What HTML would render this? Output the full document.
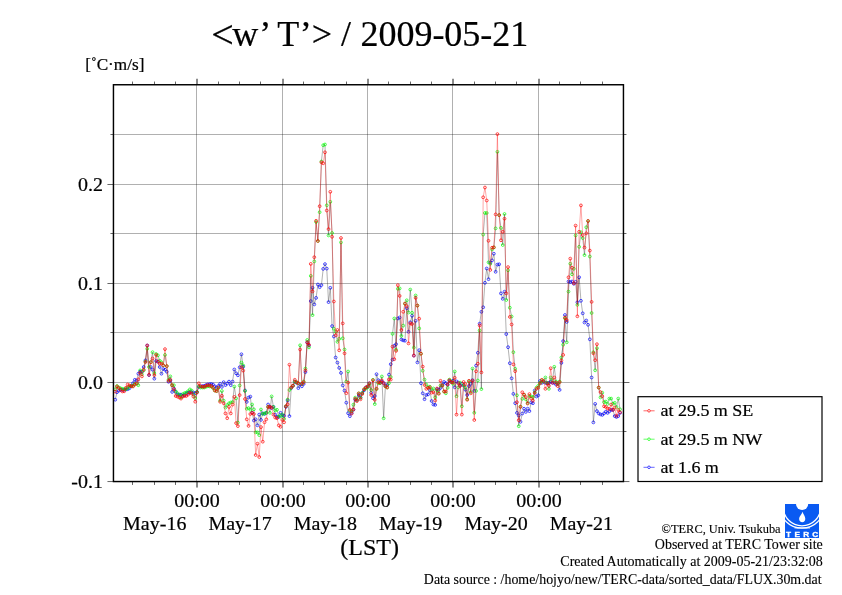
<!DOCTYPE html>
<html lang="en"><head><meta charset="utf-8"><title>&lt;w' T'&gt; / 2009-05-21</title>
<style>html,body{margin:0;padding:0;background:#fff}body{width:842px;height:595px;overflow:hidden}svg{display:block}text{font-family:"Liberation Serif",serif;fill:#000;stroke:#000;stroke-width:0.22px}</style>
</head><body>
<svg width="842" height="595" viewBox="0 0 842 595">
<rect width="842" height="595" fill="#fff"/>
<g style="will-change:opacity">
<g stroke="#000" stroke-width="1" stroke-opacity="0.31" fill="none" shape-rendering="crispEdges">
<line x1="196.5" y1="84.75" x2="196.5" y2="481.55"/>
<line x1="282.5" y1="84.75" x2="282.5" y2="481.55"/>
<line x1="367.5" y1="84.75" x2="367.5" y2="481.55"/>
<line x1="452.5" y1="84.75" x2="452.5" y2="481.55"/>
<line x1="538.5" y1="84.75" x2="538.5" y2="481.55"/>
<line x1="113.45" y1="134.5" x2="623.45" y2="134.5"/>
<line x1="113.45" y1="184.5" x2="623.45" y2="184.5"/>
<line x1="113.45" y1="233.5" x2="623.45" y2="233.5"/>
<line x1="113.45" y1="283.5" x2="623.45" y2="283.5"/>
<line x1="113.45" y1="332.5" x2="623.45" y2="332.5"/>
<line x1="113.45" y1="382.5" x2="623.45" y2="382.5"/>
<line x1="113.45" y1="431.5" x2="623.45" y2="431.5"/>
</g>
<g stroke="#000" stroke-width="1" stroke-opacity="0.6" fill="none">
<line x1="197" y1="481.55" x2="197" y2="487.55" stroke-opacity="0.9"/>
<line x1="197" y1="84.75" x2="197" y2="78.75" stroke-opacity="0.9"/>
<line x1="283" y1="481.55" x2="283" y2="487.55" stroke-opacity="0.9"/>
<line x1="283" y1="84.75" x2="283" y2="78.75" stroke-opacity="0.9"/>
<line x1="368" y1="481.55" x2="368" y2="487.55" stroke-opacity="0.9"/>
<line x1="368" y1="84.75" x2="368" y2="78.75" stroke-opacity="0.9"/>
<line x1="453" y1="481.55" x2="453" y2="487.55" stroke-opacity="0.9"/>
<line x1="453" y1="84.75" x2="453" y2="78.75" stroke-opacity="0.9"/>
<line x1="539" y1="481.55" x2="539" y2="487.55" stroke-opacity="0.9"/>
<line x1="539" y1="84.75" x2="539" y2="78.75" stroke-opacity="0.9"/>
<line x1="132.5" y1="481.55" x2="132.5" y2="484.95"/>
<line x1="132.5" y1="84.75" x2="132.5" y2="81.55"/>
<line x1="154.5" y1="481.55" x2="154.5" y2="484.95"/>
<line x1="154.5" y1="84.75" x2="154.5" y2="81.55"/>
<line x1="175.5" y1="481.55" x2="175.5" y2="484.95"/>
<line x1="175.5" y1="84.75" x2="175.5" y2="81.55"/>
<line x1="218.5" y1="481.55" x2="218.5" y2="484.95"/>
<line x1="218.5" y1="84.75" x2="218.5" y2="81.55"/>
<line x1="239.5" y1="481.55" x2="239.5" y2="484.95"/>
<line x1="239.5" y1="84.75" x2="239.5" y2="81.55"/>
<line x1="260.5" y1="481.55" x2="260.5" y2="484.95"/>
<line x1="260.5" y1="84.75" x2="260.5" y2="81.55"/>
<line x1="303.5" y1="481.55" x2="303.5" y2="484.95"/>
<line x1="303.5" y1="84.75" x2="303.5" y2="81.55"/>
<line x1="324.5" y1="481.55" x2="324.5" y2="484.95"/>
<line x1="324.5" y1="84.75" x2="324.5" y2="81.55"/>
<line x1="346.5" y1="481.55" x2="346.5" y2="484.95"/>
<line x1="346.5" y1="84.75" x2="346.5" y2="81.55"/>
<line x1="388.5" y1="481.55" x2="388.5" y2="484.95"/>
<line x1="388.5" y1="84.75" x2="388.5" y2="81.55"/>
<line x1="410.5" y1="481.55" x2="410.5" y2="484.95"/>
<line x1="410.5" y1="84.75" x2="410.5" y2="81.55"/>
<line x1="431.5" y1="481.55" x2="431.5" y2="484.95"/>
<line x1="431.5" y1="84.75" x2="431.5" y2="81.55"/>
<line x1="474.5" y1="481.55" x2="474.5" y2="484.95"/>
<line x1="474.5" y1="84.75" x2="474.5" y2="81.55"/>
<line x1="495.5" y1="481.55" x2="495.5" y2="484.95"/>
<line x1="495.5" y1="84.75" x2="495.5" y2="81.55"/>
<line x1="516.5" y1="481.55" x2="516.5" y2="484.95"/>
<line x1="516.5" y1="84.75" x2="516.5" y2="81.55"/>
<line x1="559.5" y1="481.55" x2="559.5" y2="484.95"/>
<line x1="559.5" y1="84.75" x2="559.5" y2="81.55"/>
<line x1="580.5" y1="481.55" x2="580.5" y2="484.95"/>
<line x1="580.5" y1="84.75" x2="580.5" y2="81.55"/>
<line x1="602.5" y1="481.55" x2="602.5" y2="484.95"/>
<line x1="602.5" y1="84.75" x2="602.5" y2="81.55"/>
<line x1="110.45" y1="134.5" x2="113.45" y2="134.5"/>
<line x1="623.45" y1="134.5" x2="626.45" y2="134.5"/>
<line x1="107.45" y1="184.5" x2="113.45" y2="184.5"/>
<line x1="623.45" y1="184.5" x2="629.45" y2="184.5"/>
<line x1="110.45" y1="233.5" x2="113.45" y2="233.5"/>
<line x1="623.45" y1="233.5" x2="626.45" y2="233.5"/>
<line x1="107.45" y1="283.5" x2="113.45" y2="283.5"/>
<line x1="623.45" y1="283.5" x2="629.45" y2="283.5"/>
<line x1="110.45" y1="332.5" x2="113.45" y2="332.5"/>
<line x1="623.45" y1="332.5" x2="626.45" y2="332.5"/>
<line x1="107.45" y1="382.5" x2="113.45" y2="382.5"/>
<line x1="623.45" y1="382.5" x2="629.45" y2="382.5"/>
<line x1="110.45" y1="431.5" x2="113.45" y2="431.5"/>
<line x1="623.45" y1="431.5" x2="626.45" y2="431.5"/>
<line x1="107.45" y1="481.55" x2="113.45" y2="481.55"/>
<line x1="623.45" y1="481.55" x2="629.45" y2="481.55"/>
</g>
<g>
<polyline points="115.24,399.7 117.01,392.2 118.79,390.67 120.57,389.97 122.35,389.93 124.12,389.79 125.9,389.48 127.68,389.2 129.46,388.26 131.23,386.1 133.01,383.2 134.79,379.8 136.56,380.5 138.34,373.7 140.12,371.7 141.9,371.7 143.68,367 145.45,360.3 147.23,345.5 149.01,375.1 150.79,367 152.56,369.7 154.34,378.7 156.12,361 157.9,361.6 159.67,367 161.45,373.7 163.23,369 165,369.7 166.78,371.7 168.56,381.8 170.34,380.5 172.12,391.9 173.89,388.5 175.67,391.9 177.45,394.6 179.23,394.6 181,394.6 182.78,395.68 184.56,395.05 186.34,393.3 188.11,392.85 189.89,392.29 191.67,392.2 193.44,392.6 195.22,393.2 197,391.9 198.78,386.9 200.56,386.3 202.33,386.13 204.11,386 205.89,385.17 207.67,384.5 209.44,384.22 211.22,384 213,384.5 214.78,386.3 216.55,387.5 218.33,386 220.11,383.9 221.88,386.9 223.66,382.2 225.44,385.1 227.22,383.5 229,381.6 230.77,385.1 232.55,381.6 234.33,369.5 236.11,373.3 237.88,375.3 239.66,367.3 241.44,354.3 243.22,366.7 244.99,390.5 246.77,401.9 248.55,397.6 250.32,396.6 252.1,412.8 253.88,420.5 255.66,419.3 257.44,425.3 259.21,414.6 260.99,419.9 262.77,413.4 264.54,414 266.32,412.8 268.1,404.5 269.88,406.9 271.65,408.1 273.43,406.9 275.21,414.6 276.99,417 278.76,417 280.54,412.8 282.32,415.2 284.1,415.8 285.88,406.9 287.65,400.4 289.43,416.1 291.21,388.1 292.99,385.7 294.76,381.6 296.54,382.8 298.32,388.1 300.1,384.5 301.87,386.3 303.65,384 305.43,372.1 307.2,342.4 308.98,345.5 310.76,301.1 312.54,287.8 314.31,304.4 316.09,297.9 317.87,284.5 319.65,287.2 321.42,285.1 323.2,268.9 324.98,264.1 326.76,268.6 328.53,302.1 330.31,287.8 332.09,326.1 333.87,336.5 335.64,357.5 337.42,362.6 339.2,367.9 340.98,372.9 342.75,385.4 344.53,390.6 346.31,402.7 348.09,413.2 349.87,416.2 351.64,413 353.42,409.7 355.2,399.6 356.98,400 358.75,395 360.53,397.5 362.31,393 364.08,390.3 365.86,387.5 367.64,386.8 369.42,383.3 371.19,392.7 372.97,398.2 374.75,396 376.53,374.2 378.3,380.2 380.08,382.7 381.86,381.5 383.64,383 385.41,385.6 387.19,385 388.97,374.6 390.75,364.2 392.52,359.7 394.3,345.8 396.08,344.2 397.86,318.5 399.63,317.5 401.41,339.5 403.19,340.4 404.97,340.7 406.75,308.2 408.52,331.8 410.3,322.3 412.08,315.7 413.86,355.6 415.63,320.8 417.41,362.4 419.19,350.2 420.97,383.2 422.74,393.3 424.52,399.2 426.3,395 428.07,394.4 429.85,390.3 431.63,401 433.41,404.5 435.18,404.9 436.96,389.1 438.74,389.7 440.52,387.9 442.29,384.9 444.07,382 445.85,383.2 447.63,384.9 449.4,380.8 451.18,382 452.96,380.8 454.74,387.3 456.51,381.4 458.29,382.6 460.07,385.5 461.85,383.8 463.62,385.5 465.4,389.7 467.18,395 468.96,386.1 470.74,383.8 472.51,380.2 474.29,390.9 476.07,365.6 477.85,352.8 479.62,323.7 481.4,311.8 483.18,307.3 484.95,282.8 486.73,268.5 488.51,279.2 490.29,262.6 492.06,260.4 493.84,253.7 495.62,271.8 497.4,264.6 499.17,264.3 500.95,293.4 502.73,298.8 504.51,291.7 506.28,334.1 508.06,347.2 509.84,363.2 511.62,378.3 513.39,393.9 515.17,403.2 516.95,412.9 518.73,415.5 520.5,421.8 522.28,413.5 524.06,408.7 525.84,411.9 527.62,408.7 529.39,411.1 531.17,402.4 532.95,403.2 534.73,390.5 536.5,396.5 538.28,395.3 540.06,381 541.83,382.8 543.61,381.6 545.39,382.8 547.17,383.4 548.94,382.8 550.72,381.6 552.5,382.8 554.28,382.8 556.05,384.6 557.83,383.4 559.61,389.9 561.39,362.9 563.16,341.1 564.94,315 566.72,321.9 568.5,281.5 570.27,282.1 572.05,281.5 573.83,283.8 575.61,281.8 577.38,302.3 579.16,277.3 580.94,300.8 582.72,313.3 584.5,322.5 586.27,320.5 588.05,324.8 589.83,339.3 591.61,377.5 593.38,422.4 595.16,403.9 596.94,411.1 598.71,413.4 600.49,414.4 602.27,414.9 604.05,413.4 605.82,411.7 607.6,412.9 609.38,411.3 611.16,409.9 612.93,409.9 614.71,416.1 616.49,417 618.27,416.1 620.04,412.9" fill="none" stroke="#1a1a1a" stroke-width="0.34" stroke-linejoin="round"/>
<path d="M113.84 399.7a1.4 1.4 0 1 0 2.8 0a1.4 1.4 0 1 0 -2.8 0M115.61 392.2a1.4 1.4 0 1 0 2.8 0a1.4 1.4 0 1 0 -2.8 0M117.39 390.67a1.4 1.4 0 1 0 2.8 0a1.4 1.4 0 1 0 -2.8 0M119.17 389.97a1.4 1.4 0 1 0 2.8 0a1.4 1.4 0 1 0 -2.8 0M120.95 389.93a1.4 1.4 0 1 0 2.8 0a1.4 1.4 0 1 0 -2.8 0M122.72 389.79a1.4 1.4 0 1 0 2.8 0a1.4 1.4 0 1 0 -2.8 0M124.5 389.48a1.4 1.4 0 1 0 2.8 0a1.4 1.4 0 1 0 -2.8 0M126.28 389.2a1.4 1.4 0 1 0 2.8 0a1.4 1.4 0 1 0 -2.8 0M128.06 388.26a1.4 1.4 0 1 0 2.8 0a1.4 1.4 0 1 0 -2.8 0M129.83 386.1a1.4 1.4 0 1 0 2.8 0a1.4 1.4 0 1 0 -2.8 0M131.61 383.2a1.4 1.4 0 1 0 2.8 0a1.4 1.4 0 1 0 -2.8 0M133.39 379.8a1.4 1.4 0 1 0 2.8 0a1.4 1.4 0 1 0 -2.8 0M135.16 380.5a1.4 1.4 0 1 0 2.8 0a1.4 1.4 0 1 0 -2.8 0M136.94 373.7a1.4 1.4 0 1 0 2.8 0a1.4 1.4 0 1 0 -2.8 0M138.72 371.7a1.4 1.4 0 1 0 2.8 0a1.4 1.4 0 1 0 -2.8 0M140.5 371.7a1.4 1.4 0 1 0 2.8 0a1.4 1.4 0 1 0 -2.8 0M142.28 367a1.4 1.4 0 1 0 2.8 0a1.4 1.4 0 1 0 -2.8 0M144.05 360.3a1.4 1.4 0 1 0 2.8 0a1.4 1.4 0 1 0 -2.8 0M145.83 345.5a1.4 1.4 0 1 0 2.8 0a1.4 1.4 0 1 0 -2.8 0M147.61 375.1a1.4 1.4 0 1 0 2.8 0a1.4 1.4 0 1 0 -2.8 0M149.39 367a1.4 1.4 0 1 0 2.8 0a1.4 1.4 0 1 0 -2.8 0M151.16 369.7a1.4 1.4 0 1 0 2.8 0a1.4 1.4 0 1 0 -2.8 0M152.94 378.7a1.4 1.4 0 1 0 2.8 0a1.4 1.4 0 1 0 -2.8 0M154.72 361a1.4 1.4 0 1 0 2.8 0a1.4 1.4 0 1 0 -2.8 0M156.5 361.6a1.4 1.4 0 1 0 2.8 0a1.4 1.4 0 1 0 -2.8 0M158.27 367a1.4 1.4 0 1 0 2.8 0a1.4 1.4 0 1 0 -2.8 0M160.05 373.7a1.4 1.4 0 1 0 2.8 0a1.4 1.4 0 1 0 -2.8 0M161.83 369a1.4 1.4 0 1 0 2.8 0a1.4 1.4 0 1 0 -2.8 0M163.6 369.7a1.4 1.4 0 1 0 2.8 0a1.4 1.4 0 1 0 -2.8 0M165.38 371.7a1.4 1.4 0 1 0 2.8 0a1.4 1.4 0 1 0 -2.8 0M167.16 381.8a1.4 1.4 0 1 0 2.8 0a1.4 1.4 0 1 0 -2.8 0M168.94 380.5a1.4 1.4 0 1 0 2.8 0a1.4 1.4 0 1 0 -2.8 0M170.72 391.9a1.4 1.4 0 1 0 2.8 0a1.4 1.4 0 1 0 -2.8 0M172.49 388.5a1.4 1.4 0 1 0 2.8 0a1.4 1.4 0 1 0 -2.8 0M174.27 391.9a1.4 1.4 0 1 0 2.8 0a1.4 1.4 0 1 0 -2.8 0M176.05 394.6a1.4 1.4 0 1 0 2.8 0a1.4 1.4 0 1 0 -2.8 0M177.83 394.6a1.4 1.4 0 1 0 2.8 0a1.4 1.4 0 1 0 -2.8 0M179.6 394.6a1.4 1.4 0 1 0 2.8 0a1.4 1.4 0 1 0 -2.8 0M181.38 395.68a1.4 1.4 0 1 0 2.8 0a1.4 1.4 0 1 0 -2.8 0M183.16 395.05a1.4 1.4 0 1 0 2.8 0a1.4 1.4 0 1 0 -2.8 0M184.94 393.3a1.4 1.4 0 1 0 2.8 0a1.4 1.4 0 1 0 -2.8 0M186.71 392.85a1.4 1.4 0 1 0 2.8 0a1.4 1.4 0 1 0 -2.8 0M188.49 392.29a1.4 1.4 0 1 0 2.8 0a1.4 1.4 0 1 0 -2.8 0M190.27 392.2a1.4 1.4 0 1 0 2.8 0a1.4 1.4 0 1 0 -2.8 0M192.04 392.6a1.4 1.4 0 1 0 2.8 0a1.4 1.4 0 1 0 -2.8 0M193.82 393.2a1.4 1.4 0 1 0 2.8 0a1.4 1.4 0 1 0 -2.8 0M195.6 391.9a1.4 1.4 0 1 0 2.8 0a1.4 1.4 0 1 0 -2.8 0M197.38 386.9a1.4 1.4 0 1 0 2.8 0a1.4 1.4 0 1 0 -2.8 0M199.16 386.3a1.4 1.4 0 1 0 2.8 0a1.4 1.4 0 1 0 -2.8 0M200.93 386.13a1.4 1.4 0 1 0 2.8 0a1.4 1.4 0 1 0 -2.8 0M202.71 386a1.4 1.4 0 1 0 2.8 0a1.4 1.4 0 1 0 -2.8 0M204.49 385.17a1.4 1.4 0 1 0 2.8 0a1.4 1.4 0 1 0 -2.8 0M206.27 384.5a1.4 1.4 0 1 0 2.8 0a1.4 1.4 0 1 0 -2.8 0M208.04 384.22a1.4 1.4 0 1 0 2.8 0a1.4 1.4 0 1 0 -2.8 0M209.82 384a1.4 1.4 0 1 0 2.8 0a1.4 1.4 0 1 0 -2.8 0M211.6 384.5a1.4 1.4 0 1 0 2.8 0a1.4 1.4 0 1 0 -2.8 0M213.38 386.3a1.4 1.4 0 1 0 2.8 0a1.4 1.4 0 1 0 -2.8 0M215.15 387.5a1.4 1.4 0 1 0 2.8 0a1.4 1.4 0 1 0 -2.8 0M216.93 386a1.4 1.4 0 1 0 2.8 0a1.4 1.4 0 1 0 -2.8 0M218.71 383.9a1.4 1.4 0 1 0 2.8 0a1.4 1.4 0 1 0 -2.8 0M220.48 386.9a1.4 1.4 0 1 0 2.8 0a1.4 1.4 0 1 0 -2.8 0M222.26 382.2a1.4 1.4 0 1 0 2.8 0a1.4 1.4 0 1 0 -2.8 0M224.04 385.1a1.4 1.4 0 1 0 2.8 0a1.4 1.4 0 1 0 -2.8 0M225.82 383.5a1.4 1.4 0 1 0 2.8 0a1.4 1.4 0 1 0 -2.8 0M227.6 381.6a1.4 1.4 0 1 0 2.8 0a1.4 1.4 0 1 0 -2.8 0M229.37 385.1a1.4 1.4 0 1 0 2.8 0a1.4 1.4 0 1 0 -2.8 0M231.15 381.6a1.4 1.4 0 1 0 2.8 0a1.4 1.4 0 1 0 -2.8 0M232.93 369.5a1.4 1.4 0 1 0 2.8 0a1.4 1.4 0 1 0 -2.8 0M234.71 373.3a1.4 1.4 0 1 0 2.8 0a1.4 1.4 0 1 0 -2.8 0M236.48 375.3a1.4 1.4 0 1 0 2.8 0a1.4 1.4 0 1 0 -2.8 0M238.26 367.3a1.4 1.4 0 1 0 2.8 0a1.4 1.4 0 1 0 -2.8 0M240.04 354.3a1.4 1.4 0 1 0 2.8 0a1.4 1.4 0 1 0 -2.8 0M241.82 366.7a1.4 1.4 0 1 0 2.8 0a1.4 1.4 0 1 0 -2.8 0M243.59 390.5a1.4 1.4 0 1 0 2.8 0a1.4 1.4 0 1 0 -2.8 0M245.37 401.9a1.4 1.4 0 1 0 2.8 0a1.4 1.4 0 1 0 -2.8 0M247.15 397.6a1.4 1.4 0 1 0 2.8 0a1.4 1.4 0 1 0 -2.8 0M248.92 396.6a1.4 1.4 0 1 0 2.8 0a1.4 1.4 0 1 0 -2.8 0M250.7 412.8a1.4 1.4 0 1 0 2.8 0a1.4 1.4 0 1 0 -2.8 0M252.48 420.5a1.4 1.4 0 1 0 2.8 0a1.4 1.4 0 1 0 -2.8 0M254.26 419.3a1.4 1.4 0 1 0 2.8 0a1.4 1.4 0 1 0 -2.8 0M256.04 425.3a1.4 1.4 0 1 0 2.8 0a1.4 1.4 0 1 0 -2.8 0M257.81 414.6a1.4 1.4 0 1 0 2.8 0a1.4 1.4 0 1 0 -2.8 0M259.59 419.9a1.4 1.4 0 1 0 2.8 0a1.4 1.4 0 1 0 -2.8 0M261.37 413.4a1.4 1.4 0 1 0 2.8 0a1.4 1.4 0 1 0 -2.8 0M263.14 414a1.4 1.4 0 1 0 2.8 0a1.4 1.4 0 1 0 -2.8 0M264.92 412.8a1.4 1.4 0 1 0 2.8 0a1.4 1.4 0 1 0 -2.8 0M266.7 404.5a1.4 1.4 0 1 0 2.8 0a1.4 1.4 0 1 0 -2.8 0M268.48 406.9a1.4 1.4 0 1 0 2.8 0a1.4 1.4 0 1 0 -2.8 0M270.25 408.1a1.4 1.4 0 1 0 2.8 0a1.4 1.4 0 1 0 -2.8 0M272.03 406.9a1.4 1.4 0 1 0 2.8 0a1.4 1.4 0 1 0 -2.8 0M273.81 414.6a1.4 1.4 0 1 0 2.8 0a1.4 1.4 0 1 0 -2.8 0M275.59 417a1.4 1.4 0 1 0 2.8 0a1.4 1.4 0 1 0 -2.8 0M277.36 417a1.4 1.4 0 1 0 2.8 0a1.4 1.4 0 1 0 -2.8 0M279.14 412.8a1.4 1.4 0 1 0 2.8 0a1.4 1.4 0 1 0 -2.8 0M280.92 415.2a1.4 1.4 0 1 0 2.8 0a1.4 1.4 0 1 0 -2.8 0M282.7 415.8a1.4 1.4 0 1 0 2.8 0a1.4 1.4 0 1 0 -2.8 0M284.48 406.9a1.4 1.4 0 1 0 2.8 0a1.4 1.4 0 1 0 -2.8 0M286.25 400.4a1.4 1.4 0 1 0 2.8 0a1.4 1.4 0 1 0 -2.8 0M288.03 416.1a1.4 1.4 0 1 0 2.8 0a1.4 1.4 0 1 0 -2.8 0M289.81 388.1a1.4 1.4 0 1 0 2.8 0a1.4 1.4 0 1 0 -2.8 0M291.59 385.7a1.4 1.4 0 1 0 2.8 0a1.4 1.4 0 1 0 -2.8 0M293.36 381.6a1.4 1.4 0 1 0 2.8 0a1.4 1.4 0 1 0 -2.8 0M295.14 382.8a1.4 1.4 0 1 0 2.8 0a1.4 1.4 0 1 0 -2.8 0M296.92 388.1a1.4 1.4 0 1 0 2.8 0a1.4 1.4 0 1 0 -2.8 0M298.7 384.5a1.4 1.4 0 1 0 2.8 0a1.4 1.4 0 1 0 -2.8 0M300.47 386.3a1.4 1.4 0 1 0 2.8 0a1.4 1.4 0 1 0 -2.8 0M302.25 384a1.4 1.4 0 1 0 2.8 0a1.4 1.4 0 1 0 -2.8 0M304.03 372.1a1.4 1.4 0 1 0 2.8 0a1.4 1.4 0 1 0 -2.8 0M305.8 342.4a1.4 1.4 0 1 0 2.8 0a1.4 1.4 0 1 0 -2.8 0M307.58 345.5a1.4 1.4 0 1 0 2.8 0a1.4 1.4 0 1 0 -2.8 0M309.36 301.1a1.4 1.4 0 1 0 2.8 0a1.4 1.4 0 1 0 -2.8 0M311.14 287.8a1.4 1.4 0 1 0 2.8 0a1.4 1.4 0 1 0 -2.8 0M312.91 304.4a1.4 1.4 0 1 0 2.8 0a1.4 1.4 0 1 0 -2.8 0M314.69 297.9a1.4 1.4 0 1 0 2.8 0a1.4 1.4 0 1 0 -2.8 0M316.47 284.5a1.4 1.4 0 1 0 2.8 0a1.4 1.4 0 1 0 -2.8 0M318.25 287.2a1.4 1.4 0 1 0 2.8 0a1.4 1.4 0 1 0 -2.8 0M320.02 285.1a1.4 1.4 0 1 0 2.8 0a1.4 1.4 0 1 0 -2.8 0M321.8 268.9a1.4 1.4 0 1 0 2.8 0a1.4 1.4 0 1 0 -2.8 0M323.58 264.1a1.4 1.4 0 1 0 2.8 0a1.4 1.4 0 1 0 -2.8 0M325.36 268.6a1.4 1.4 0 1 0 2.8 0a1.4 1.4 0 1 0 -2.8 0M327.13 302.1a1.4 1.4 0 1 0 2.8 0a1.4 1.4 0 1 0 -2.8 0M328.91 287.8a1.4 1.4 0 1 0 2.8 0a1.4 1.4 0 1 0 -2.8 0M330.69 326.1a1.4 1.4 0 1 0 2.8 0a1.4 1.4 0 1 0 -2.8 0M332.47 336.5a1.4 1.4 0 1 0 2.8 0a1.4 1.4 0 1 0 -2.8 0M334.24 357.5a1.4 1.4 0 1 0 2.8 0a1.4 1.4 0 1 0 -2.8 0M336.02 362.6a1.4 1.4 0 1 0 2.8 0a1.4 1.4 0 1 0 -2.8 0M337.8 367.9a1.4 1.4 0 1 0 2.8 0a1.4 1.4 0 1 0 -2.8 0M339.58 372.9a1.4 1.4 0 1 0 2.8 0a1.4 1.4 0 1 0 -2.8 0M341.35 385.4a1.4 1.4 0 1 0 2.8 0a1.4 1.4 0 1 0 -2.8 0M343.13 390.6a1.4 1.4 0 1 0 2.8 0a1.4 1.4 0 1 0 -2.8 0M344.91 402.7a1.4 1.4 0 1 0 2.8 0a1.4 1.4 0 1 0 -2.8 0M346.69 413.2a1.4 1.4 0 1 0 2.8 0a1.4 1.4 0 1 0 -2.8 0M348.47 416.2a1.4 1.4 0 1 0 2.8 0a1.4 1.4 0 1 0 -2.8 0M350.24 413a1.4 1.4 0 1 0 2.8 0a1.4 1.4 0 1 0 -2.8 0M352.02 409.7a1.4 1.4 0 1 0 2.8 0a1.4 1.4 0 1 0 -2.8 0M353.8 399.6a1.4 1.4 0 1 0 2.8 0a1.4 1.4 0 1 0 -2.8 0M355.58 400a1.4 1.4 0 1 0 2.8 0a1.4 1.4 0 1 0 -2.8 0M357.35 395a1.4 1.4 0 1 0 2.8 0a1.4 1.4 0 1 0 -2.8 0M359.13 397.5a1.4 1.4 0 1 0 2.8 0a1.4 1.4 0 1 0 -2.8 0M360.91 393a1.4 1.4 0 1 0 2.8 0a1.4 1.4 0 1 0 -2.8 0M362.68 390.3a1.4 1.4 0 1 0 2.8 0a1.4 1.4 0 1 0 -2.8 0M364.46 387.5a1.4 1.4 0 1 0 2.8 0a1.4 1.4 0 1 0 -2.8 0M366.24 386.8a1.4 1.4 0 1 0 2.8 0a1.4 1.4 0 1 0 -2.8 0M368.02 383.3a1.4 1.4 0 1 0 2.8 0a1.4 1.4 0 1 0 -2.8 0M369.79 392.7a1.4 1.4 0 1 0 2.8 0a1.4 1.4 0 1 0 -2.8 0M371.57 398.2a1.4 1.4 0 1 0 2.8 0a1.4 1.4 0 1 0 -2.8 0M373.35 396a1.4 1.4 0 1 0 2.8 0a1.4 1.4 0 1 0 -2.8 0M375.13 374.2a1.4 1.4 0 1 0 2.8 0a1.4 1.4 0 1 0 -2.8 0M376.9 380.2a1.4 1.4 0 1 0 2.8 0a1.4 1.4 0 1 0 -2.8 0M378.68 382.7a1.4 1.4 0 1 0 2.8 0a1.4 1.4 0 1 0 -2.8 0M380.46 381.5a1.4 1.4 0 1 0 2.8 0a1.4 1.4 0 1 0 -2.8 0M382.24 383a1.4 1.4 0 1 0 2.8 0a1.4 1.4 0 1 0 -2.8 0M384.01 385.6a1.4 1.4 0 1 0 2.8 0a1.4 1.4 0 1 0 -2.8 0M385.79 385a1.4 1.4 0 1 0 2.8 0a1.4 1.4 0 1 0 -2.8 0M387.57 374.6a1.4 1.4 0 1 0 2.8 0a1.4 1.4 0 1 0 -2.8 0M389.35 364.2a1.4 1.4 0 1 0 2.8 0a1.4 1.4 0 1 0 -2.8 0M391.12 359.7a1.4 1.4 0 1 0 2.8 0a1.4 1.4 0 1 0 -2.8 0M392.9 345.8a1.4 1.4 0 1 0 2.8 0a1.4 1.4 0 1 0 -2.8 0M394.68 344.2a1.4 1.4 0 1 0 2.8 0a1.4 1.4 0 1 0 -2.8 0M396.46 318.5a1.4 1.4 0 1 0 2.8 0a1.4 1.4 0 1 0 -2.8 0M398.23 317.5a1.4 1.4 0 1 0 2.8 0a1.4 1.4 0 1 0 -2.8 0M400.01 339.5a1.4 1.4 0 1 0 2.8 0a1.4 1.4 0 1 0 -2.8 0M401.79 340.4a1.4 1.4 0 1 0 2.8 0a1.4 1.4 0 1 0 -2.8 0M403.57 340.7a1.4 1.4 0 1 0 2.8 0a1.4 1.4 0 1 0 -2.8 0M405.35 308.2a1.4 1.4 0 1 0 2.8 0a1.4 1.4 0 1 0 -2.8 0M407.12 331.8a1.4 1.4 0 1 0 2.8 0a1.4 1.4 0 1 0 -2.8 0M408.9 322.3a1.4 1.4 0 1 0 2.8 0a1.4 1.4 0 1 0 -2.8 0M410.68 315.7a1.4 1.4 0 1 0 2.8 0a1.4 1.4 0 1 0 -2.8 0M412.46 355.6a1.4 1.4 0 1 0 2.8 0a1.4 1.4 0 1 0 -2.8 0M414.23 320.8a1.4 1.4 0 1 0 2.8 0a1.4 1.4 0 1 0 -2.8 0M416.01 362.4a1.4 1.4 0 1 0 2.8 0a1.4 1.4 0 1 0 -2.8 0M417.79 350.2a1.4 1.4 0 1 0 2.8 0a1.4 1.4 0 1 0 -2.8 0M419.57 383.2a1.4 1.4 0 1 0 2.8 0a1.4 1.4 0 1 0 -2.8 0M421.34 393.3a1.4 1.4 0 1 0 2.8 0a1.4 1.4 0 1 0 -2.8 0M423.12 399.2a1.4 1.4 0 1 0 2.8 0a1.4 1.4 0 1 0 -2.8 0M424.9 395a1.4 1.4 0 1 0 2.8 0a1.4 1.4 0 1 0 -2.8 0M426.67 394.4a1.4 1.4 0 1 0 2.8 0a1.4 1.4 0 1 0 -2.8 0M428.45 390.3a1.4 1.4 0 1 0 2.8 0a1.4 1.4 0 1 0 -2.8 0M430.23 401a1.4 1.4 0 1 0 2.8 0a1.4 1.4 0 1 0 -2.8 0M432.01 404.5a1.4 1.4 0 1 0 2.8 0a1.4 1.4 0 1 0 -2.8 0M433.78 404.9a1.4 1.4 0 1 0 2.8 0a1.4 1.4 0 1 0 -2.8 0M435.56 389.1a1.4 1.4 0 1 0 2.8 0a1.4 1.4 0 1 0 -2.8 0M437.34 389.7a1.4 1.4 0 1 0 2.8 0a1.4 1.4 0 1 0 -2.8 0M439.12 387.9a1.4 1.4 0 1 0 2.8 0a1.4 1.4 0 1 0 -2.8 0M440.89 384.9a1.4 1.4 0 1 0 2.8 0a1.4 1.4 0 1 0 -2.8 0M442.67 382a1.4 1.4 0 1 0 2.8 0a1.4 1.4 0 1 0 -2.8 0M444.45 383.2a1.4 1.4 0 1 0 2.8 0a1.4 1.4 0 1 0 -2.8 0M446.23 384.9a1.4 1.4 0 1 0 2.8 0a1.4 1.4 0 1 0 -2.8 0M448 380.8a1.4 1.4 0 1 0 2.8 0a1.4 1.4 0 1 0 -2.8 0M449.78 382a1.4 1.4 0 1 0 2.8 0a1.4 1.4 0 1 0 -2.8 0M451.56 380.8a1.4 1.4 0 1 0 2.8 0a1.4 1.4 0 1 0 -2.8 0M453.34 387.3a1.4 1.4 0 1 0 2.8 0a1.4 1.4 0 1 0 -2.8 0M455.11 381.4a1.4 1.4 0 1 0 2.8 0a1.4 1.4 0 1 0 -2.8 0M456.89 382.6a1.4 1.4 0 1 0 2.8 0a1.4 1.4 0 1 0 -2.8 0M458.67 385.5a1.4 1.4 0 1 0 2.8 0a1.4 1.4 0 1 0 -2.8 0M460.45 383.8a1.4 1.4 0 1 0 2.8 0a1.4 1.4 0 1 0 -2.8 0M462.22 385.5a1.4 1.4 0 1 0 2.8 0a1.4 1.4 0 1 0 -2.8 0M464 389.7a1.4 1.4 0 1 0 2.8 0a1.4 1.4 0 1 0 -2.8 0M465.78 395a1.4 1.4 0 1 0 2.8 0a1.4 1.4 0 1 0 -2.8 0M467.56 386.1a1.4 1.4 0 1 0 2.8 0a1.4 1.4 0 1 0 -2.8 0M469.34 383.8a1.4 1.4 0 1 0 2.8 0a1.4 1.4 0 1 0 -2.8 0M471.11 380.2a1.4 1.4 0 1 0 2.8 0a1.4 1.4 0 1 0 -2.8 0M472.89 390.9a1.4 1.4 0 1 0 2.8 0a1.4 1.4 0 1 0 -2.8 0M474.67 365.6a1.4 1.4 0 1 0 2.8 0a1.4 1.4 0 1 0 -2.8 0M476.45 352.8a1.4 1.4 0 1 0 2.8 0a1.4 1.4 0 1 0 -2.8 0M478.22 323.7a1.4 1.4 0 1 0 2.8 0a1.4 1.4 0 1 0 -2.8 0M480 311.8a1.4 1.4 0 1 0 2.8 0a1.4 1.4 0 1 0 -2.8 0M481.78 307.3a1.4 1.4 0 1 0 2.8 0a1.4 1.4 0 1 0 -2.8 0M483.55 282.8a1.4 1.4 0 1 0 2.8 0a1.4 1.4 0 1 0 -2.8 0M485.33 268.5a1.4 1.4 0 1 0 2.8 0a1.4 1.4 0 1 0 -2.8 0M487.11 279.2a1.4 1.4 0 1 0 2.8 0a1.4 1.4 0 1 0 -2.8 0M488.89 262.6a1.4 1.4 0 1 0 2.8 0a1.4 1.4 0 1 0 -2.8 0M490.66 260.4a1.4 1.4 0 1 0 2.8 0a1.4 1.4 0 1 0 -2.8 0M492.44 253.7a1.4 1.4 0 1 0 2.8 0a1.4 1.4 0 1 0 -2.8 0M494.22 271.8a1.4 1.4 0 1 0 2.8 0a1.4 1.4 0 1 0 -2.8 0M496 264.6a1.4 1.4 0 1 0 2.8 0a1.4 1.4 0 1 0 -2.8 0M497.77 264.3a1.4 1.4 0 1 0 2.8 0a1.4 1.4 0 1 0 -2.8 0M499.55 293.4a1.4 1.4 0 1 0 2.8 0a1.4 1.4 0 1 0 -2.8 0M501.33 298.8a1.4 1.4 0 1 0 2.8 0a1.4 1.4 0 1 0 -2.8 0M503.11 291.7a1.4 1.4 0 1 0 2.8 0a1.4 1.4 0 1 0 -2.8 0M504.88 334.1a1.4 1.4 0 1 0 2.8 0a1.4 1.4 0 1 0 -2.8 0M506.66 347.2a1.4 1.4 0 1 0 2.8 0a1.4 1.4 0 1 0 -2.8 0M508.44 363.2a1.4 1.4 0 1 0 2.8 0a1.4 1.4 0 1 0 -2.8 0M510.22 378.3a1.4 1.4 0 1 0 2.8 0a1.4 1.4 0 1 0 -2.8 0M511.99 393.9a1.4 1.4 0 1 0 2.8 0a1.4 1.4 0 1 0 -2.8 0M513.77 403.2a1.4 1.4 0 1 0 2.8 0a1.4 1.4 0 1 0 -2.8 0M515.55 412.9a1.4 1.4 0 1 0 2.8 0a1.4 1.4 0 1 0 -2.8 0M517.33 415.5a1.4 1.4 0 1 0 2.8 0a1.4 1.4 0 1 0 -2.8 0M519.1 421.8a1.4 1.4 0 1 0 2.8 0a1.4 1.4 0 1 0 -2.8 0M520.88 413.5a1.4 1.4 0 1 0 2.8 0a1.4 1.4 0 1 0 -2.8 0M522.66 408.7a1.4 1.4 0 1 0 2.8 0a1.4 1.4 0 1 0 -2.8 0M524.44 411.9a1.4 1.4 0 1 0 2.8 0a1.4 1.4 0 1 0 -2.8 0M526.22 408.7a1.4 1.4 0 1 0 2.8 0a1.4 1.4 0 1 0 -2.8 0M527.99 411.1a1.4 1.4 0 1 0 2.8 0a1.4 1.4 0 1 0 -2.8 0M529.77 402.4a1.4 1.4 0 1 0 2.8 0a1.4 1.4 0 1 0 -2.8 0M531.55 403.2a1.4 1.4 0 1 0 2.8 0a1.4 1.4 0 1 0 -2.8 0M533.33 390.5a1.4 1.4 0 1 0 2.8 0a1.4 1.4 0 1 0 -2.8 0M535.1 396.5a1.4 1.4 0 1 0 2.8 0a1.4 1.4 0 1 0 -2.8 0M536.88 395.3a1.4 1.4 0 1 0 2.8 0a1.4 1.4 0 1 0 -2.8 0M538.66 381a1.4 1.4 0 1 0 2.8 0a1.4 1.4 0 1 0 -2.8 0M540.43 382.8a1.4 1.4 0 1 0 2.8 0a1.4 1.4 0 1 0 -2.8 0M542.21 381.6a1.4 1.4 0 1 0 2.8 0a1.4 1.4 0 1 0 -2.8 0M543.99 382.8a1.4 1.4 0 1 0 2.8 0a1.4 1.4 0 1 0 -2.8 0M545.77 383.4a1.4 1.4 0 1 0 2.8 0a1.4 1.4 0 1 0 -2.8 0M547.54 382.8a1.4 1.4 0 1 0 2.8 0a1.4 1.4 0 1 0 -2.8 0M549.32 381.6a1.4 1.4 0 1 0 2.8 0a1.4 1.4 0 1 0 -2.8 0M551.1 382.8a1.4 1.4 0 1 0 2.8 0a1.4 1.4 0 1 0 -2.8 0M552.88 382.8a1.4 1.4 0 1 0 2.8 0a1.4 1.4 0 1 0 -2.8 0M554.65 384.6a1.4 1.4 0 1 0 2.8 0a1.4 1.4 0 1 0 -2.8 0M556.43 383.4a1.4 1.4 0 1 0 2.8 0a1.4 1.4 0 1 0 -2.8 0M558.21 389.9a1.4 1.4 0 1 0 2.8 0a1.4 1.4 0 1 0 -2.8 0M559.99 362.9a1.4 1.4 0 1 0 2.8 0a1.4 1.4 0 1 0 -2.8 0M561.76 341.1a1.4 1.4 0 1 0 2.8 0a1.4 1.4 0 1 0 -2.8 0M563.54 315a1.4 1.4 0 1 0 2.8 0a1.4 1.4 0 1 0 -2.8 0M565.32 321.9a1.4 1.4 0 1 0 2.8 0a1.4 1.4 0 1 0 -2.8 0M567.1 281.5a1.4 1.4 0 1 0 2.8 0a1.4 1.4 0 1 0 -2.8 0M568.87 282.1a1.4 1.4 0 1 0 2.8 0a1.4 1.4 0 1 0 -2.8 0M570.65 281.5a1.4 1.4 0 1 0 2.8 0a1.4 1.4 0 1 0 -2.8 0M572.43 283.8a1.4 1.4 0 1 0 2.8 0a1.4 1.4 0 1 0 -2.8 0M574.21 281.8a1.4 1.4 0 1 0 2.8 0a1.4 1.4 0 1 0 -2.8 0M575.98 302.3a1.4 1.4 0 1 0 2.8 0a1.4 1.4 0 1 0 -2.8 0M577.76 277.3a1.4 1.4 0 1 0 2.8 0a1.4 1.4 0 1 0 -2.8 0M579.54 300.8a1.4 1.4 0 1 0 2.8 0a1.4 1.4 0 1 0 -2.8 0M581.32 313.3a1.4 1.4 0 1 0 2.8 0a1.4 1.4 0 1 0 -2.8 0M583.1 322.5a1.4 1.4 0 1 0 2.8 0a1.4 1.4 0 1 0 -2.8 0M584.87 320.5a1.4 1.4 0 1 0 2.8 0a1.4 1.4 0 1 0 -2.8 0M586.65 324.8a1.4 1.4 0 1 0 2.8 0a1.4 1.4 0 1 0 -2.8 0M588.43 339.3a1.4 1.4 0 1 0 2.8 0a1.4 1.4 0 1 0 -2.8 0M590.21 377.5a1.4 1.4 0 1 0 2.8 0a1.4 1.4 0 1 0 -2.8 0M591.98 422.4a1.4 1.4 0 1 0 2.8 0a1.4 1.4 0 1 0 -2.8 0M593.76 403.9a1.4 1.4 0 1 0 2.8 0a1.4 1.4 0 1 0 -2.8 0M595.54 411.1a1.4 1.4 0 1 0 2.8 0a1.4 1.4 0 1 0 -2.8 0M597.31 413.4a1.4 1.4 0 1 0 2.8 0a1.4 1.4 0 1 0 -2.8 0M599.09 414.4a1.4 1.4 0 1 0 2.8 0a1.4 1.4 0 1 0 -2.8 0M600.87 414.9a1.4 1.4 0 1 0 2.8 0a1.4 1.4 0 1 0 -2.8 0M602.65 413.4a1.4 1.4 0 1 0 2.8 0a1.4 1.4 0 1 0 -2.8 0M604.42 411.7a1.4 1.4 0 1 0 2.8 0a1.4 1.4 0 1 0 -2.8 0M606.2 412.9a1.4 1.4 0 1 0 2.8 0a1.4 1.4 0 1 0 -2.8 0M607.98 411.3a1.4 1.4 0 1 0 2.8 0a1.4 1.4 0 1 0 -2.8 0M609.76 409.9a1.4 1.4 0 1 0 2.8 0a1.4 1.4 0 1 0 -2.8 0M611.53 409.9a1.4 1.4 0 1 0 2.8 0a1.4 1.4 0 1 0 -2.8 0M613.31 416.1a1.4 1.4 0 1 0 2.8 0a1.4 1.4 0 1 0 -2.8 0M615.09 417a1.4 1.4 0 1 0 2.8 0a1.4 1.4 0 1 0 -2.8 0M616.87 416.1a1.4 1.4 0 1 0 2.8 0a1.4 1.4 0 1 0 -2.8 0M618.64 412.9a1.4 1.4 0 1 0 2.8 0a1.4 1.4 0 1 0 -2.8 0" fill="none" stroke="#00f" stroke-width="0.7"/>
<polyline points="115.24,389.2 117.01,386 118.79,387.47 120.57,388.27 122.35,388.83 124.12,389.2 125.9,389.2 127.68,387.98 129.46,386.51 131.23,385.9 133.01,385.9 134.79,384.01 136.56,383.91 138.34,385.2 140.12,370.4 141.9,374.4 143.68,370.4 145.45,361.6 147.23,348.8 149.01,367 150.79,362 152.56,352.2 154.34,373.1 156.12,354 157.9,355.3 159.67,360.7 161.45,362.3 163.23,365.3 165,354.9 166.78,366.1 168.56,379.8 170.34,376.4 172.12,385.2 173.89,385.2 175.67,391.2 177.45,393.3 179.23,395.11 181,397.3 182.78,394.22 184.56,393.05 186.34,392.6 188.11,391.19 189.89,389.41 191.67,390.54 193.44,394.6 195.22,398 197,392 198.78,386.3 200.56,387.5 202.33,387.5 204.11,387.5 205.89,386.84 207.67,386.3 209.44,386.41 211.22,386.5 213,388.1 214.78,390.5 216.55,391.1 218.33,388.1 220.11,400.6 221.88,391 223.66,400.6 225.44,407.6 227.22,405 229,403.3 230.77,402.5 232.55,402.1 234.33,386.6 236.11,398.4 237.88,422.6 239.66,385.5 241.44,362.6 243.22,365.5 244.99,391 246.77,408.8 248.55,408.1 250.32,409.8 252.1,404.5 253.88,409.3 255.66,432.4 257.44,432.4 259.21,435.1 260.99,409.5 262.77,414 264.54,413.4 266.32,412.8 268.1,406.9 269.88,412.8 271.65,396.4 273.43,406.9 275.21,410.4 276.99,409.8 278.76,416.4 280.54,416.4 282.32,414.6 284.1,418.8 285.88,406.3 287.65,399.6 289.43,390 291.21,387.5 292.99,385.7 294.76,381.6 296.54,382.2 298.32,383.3 300.1,345.3 301.87,383.9 303.65,381.6 305.43,368.5 307.2,340 308.98,347.4 310.76,275.9 312.54,315.1 314.31,261.4 316.09,222 317.87,241 319.65,212.2 321.42,161.5 323.2,145.2 324.98,144.5 326.76,205.3 328.53,235.4 330.31,201.8 332.09,233 333.87,328.8 335.64,331.8 337.42,341.8 339.2,338.9 340.98,242.4 342.75,338.3 344.53,349.5 346.31,381.5 348.09,371.5 349.87,410.6 351.64,411.2 353.42,404.7 355.2,397.6 356.98,399.9 358.75,393.4 360.53,397.8 362.31,393 364.08,389.3 365.86,388.5 367.64,387.3 369.42,384.3 371.19,390 372.97,379.8 374.75,404.1 376.53,389.1 378.3,383.1 380.08,383.2 381.86,376.5 383.64,418.3 385.41,386.3 387.19,387.5 388.97,383.2 390.75,377 392.52,333.9 394.3,318.5 396.08,349.7 397.86,288.8 399.63,288.4 401.41,335.9 403.19,325.6 404.97,303.8 406.75,300.3 408.52,312.5 410.3,289.6 412.08,312.8 413.86,347.6 415.63,295.5 417.41,305.6 419.19,328.4 420.97,353.7 422.74,370.7 424.52,379.6 426.3,384.6 428.07,387.3 429.85,386.7 431.63,389.7 433.41,388.5 435.18,397.4 436.96,390.3 438.74,393.3 440.52,385.5 442.29,385.5 444.07,391.5 445.85,393.3 447.63,387.9 449.4,379.6 451.18,381.4 452.96,383.8 454.74,371.5 456.51,396.2 458.29,387.3 460.07,382.6 461.85,406.3 463.62,385 465.4,387.9 467.18,399.2 468.96,381.4 470.74,392.1 472.51,368.6 474.29,412.8 476.07,390.9 477.85,380.5 479.62,330.4 481.4,389.1 483.18,234.6 484.95,213 486.73,213 488.51,262.3 490.29,263.8 492.06,249.5 493.84,247.4 495.62,228.4 497.4,151.8 499.17,215.1 500.95,227.9 502.73,245 504.51,214 506.28,300 508.06,270.3 509.84,307.7 511.62,316.5 513.39,352.2 515.17,368.8 516.95,395.3 518.73,426.2 520.5,406.6 522.28,398.8 524.06,394.7 525.84,399.4 527.62,403 529.39,395.9 531.17,396.5 532.95,397.1 534.73,392.3 536.5,387.6 538.28,385.8 540.06,382.8 541.83,380.4 543.61,381.6 545.39,377.5 547.17,382.8 548.94,388.8 550.72,377.5 552.5,380.4 554.28,366.8 556.05,381.6 557.83,384 559.61,381.6 561.39,357.5 563.16,344.7 564.94,318.3 566.72,342.3 568.5,291.6 570.27,263.7 572.05,274.3 573.83,268.8 575.61,235.4 577.38,304.9 579.16,246.8 580.94,232.2 582.72,238.1 584.5,255.1 586.27,227.2 588.05,221.2 589.83,256.5 591.61,313 593.38,352.2 595.16,370.3 596.94,348.2 598.71,387.6 600.49,397.4 602.27,392.7 604.05,402.2 605.82,401.6 607.6,403.9 609.38,398.6 611.16,398.6 612.93,403.7 614.71,402.8 616.49,406.9 618.27,398.6 620.04,409.3" fill="none" stroke="#1a1a1a" stroke-width="0.34" stroke-linejoin="round"/>
<path d="M113.84 389.2a1.4 1.4 0 1 0 2.8 0a1.4 1.4 0 1 0 -2.8 0M115.61 386a1.4 1.4 0 1 0 2.8 0a1.4 1.4 0 1 0 -2.8 0M117.39 387.47a1.4 1.4 0 1 0 2.8 0a1.4 1.4 0 1 0 -2.8 0M119.17 388.27a1.4 1.4 0 1 0 2.8 0a1.4 1.4 0 1 0 -2.8 0M120.95 388.83a1.4 1.4 0 1 0 2.8 0a1.4 1.4 0 1 0 -2.8 0M122.72 389.2a1.4 1.4 0 1 0 2.8 0a1.4 1.4 0 1 0 -2.8 0M124.5 389.2a1.4 1.4 0 1 0 2.8 0a1.4 1.4 0 1 0 -2.8 0M126.28 387.98a1.4 1.4 0 1 0 2.8 0a1.4 1.4 0 1 0 -2.8 0M128.06 386.51a1.4 1.4 0 1 0 2.8 0a1.4 1.4 0 1 0 -2.8 0M129.83 385.9a1.4 1.4 0 1 0 2.8 0a1.4 1.4 0 1 0 -2.8 0M131.61 385.9a1.4 1.4 0 1 0 2.8 0a1.4 1.4 0 1 0 -2.8 0M133.39 384.01a1.4 1.4 0 1 0 2.8 0a1.4 1.4 0 1 0 -2.8 0M135.16 383.91a1.4 1.4 0 1 0 2.8 0a1.4 1.4 0 1 0 -2.8 0M136.94 385.2a1.4 1.4 0 1 0 2.8 0a1.4 1.4 0 1 0 -2.8 0M138.72 370.4a1.4 1.4 0 1 0 2.8 0a1.4 1.4 0 1 0 -2.8 0M140.5 374.4a1.4 1.4 0 1 0 2.8 0a1.4 1.4 0 1 0 -2.8 0M142.28 370.4a1.4 1.4 0 1 0 2.8 0a1.4 1.4 0 1 0 -2.8 0M144.05 361.6a1.4 1.4 0 1 0 2.8 0a1.4 1.4 0 1 0 -2.8 0M145.83 348.8a1.4 1.4 0 1 0 2.8 0a1.4 1.4 0 1 0 -2.8 0M147.61 367a1.4 1.4 0 1 0 2.8 0a1.4 1.4 0 1 0 -2.8 0M149.39 362a1.4 1.4 0 1 0 2.8 0a1.4 1.4 0 1 0 -2.8 0M151.16 352.2a1.4 1.4 0 1 0 2.8 0a1.4 1.4 0 1 0 -2.8 0M152.94 373.1a1.4 1.4 0 1 0 2.8 0a1.4 1.4 0 1 0 -2.8 0M154.72 354a1.4 1.4 0 1 0 2.8 0a1.4 1.4 0 1 0 -2.8 0M156.5 355.3a1.4 1.4 0 1 0 2.8 0a1.4 1.4 0 1 0 -2.8 0M158.27 360.7a1.4 1.4 0 1 0 2.8 0a1.4 1.4 0 1 0 -2.8 0M160.05 362.3a1.4 1.4 0 1 0 2.8 0a1.4 1.4 0 1 0 -2.8 0M161.83 365.3a1.4 1.4 0 1 0 2.8 0a1.4 1.4 0 1 0 -2.8 0M163.6 354.9a1.4 1.4 0 1 0 2.8 0a1.4 1.4 0 1 0 -2.8 0M165.38 366.1a1.4 1.4 0 1 0 2.8 0a1.4 1.4 0 1 0 -2.8 0M167.16 379.8a1.4 1.4 0 1 0 2.8 0a1.4 1.4 0 1 0 -2.8 0M168.94 376.4a1.4 1.4 0 1 0 2.8 0a1.4 1.4 0 1 0 -2.8 0M170.72 385.2a1.4 1.4 0 1 0 2.8 0a1.4 1.4 0 1 0 -2.8 0M172.49 385.2a1.4 1.4 0 1 0 2.8 0a1.4 1.4 0 1 0 -2.8 0M174.27 391.2a1.4 1.4 0 1 0 2.8 0a1.4 1.4 0 1 0 -2.8 0M176.05 393.3a1.4 1.4 0 1 0 2.8 0a1.4 1.4 0 1 0 -2.8 0M177.83 395.11a1.4 1.4 0 1 0 2.8 0a1.4 1.4 0 1 0 -2.8 0M179.6 397.3a1.4 1.4 0 1 0 2.8 0a1.4 1.4 0 1 0 -2.8 0M181.38 394.22a1.4 1.4 0 1 0 2.8 0a1.4 1.4 0 1 0 -2.8 0M183.16 393.05a1.4 1.4 0 1 0 2.8 0a1.4 1.4 0 1 0 -2.8 0M184.94 392.6a1.4 1.4 0 1 0 2.8 0a1.4 1.4 0 1 0 -2.8 0M186.71 391.19a1.4 1.4 0 1 0 2.8 0a1.4 1.4 0 1 0 -2.8 0M188.49 389.41a1.4 1.4 0 1 0 2.8 0a1.4 1.4 0 1 0 -2.8 0M190.27 390.54a1.4 1.4 0 1 0 2.8 0a1.4 1.4 0 1 0 -2.8 0M192.04 394.6a1.4 1.4 0 1 0 2.8 0a1.4 1.4 0 1 0 -2.8 0M193.82 398a1.4 1.4 0 1 0 2.8 0a1.4 1.4 0 1 0 -2.8 0M195.6 392a1.4 1.4 0 1 0 2.8 0a1.4 1.4 0 1 0 -2.8 0M197.38 386.3a1.4 1.4 0 1 0 2.8 0a1.4 1.4 0 1 0 -2.8 0M199.16 387.5a1.4 1.4 0 1 0 2.8 0a1.4 1.4 0 1 0 -2.8 0M200.93 387.5a1.4 1.4 0 1 0 2.8 0a1.4 1.4 0 1 0 -2.8 0M202.71 387.5a1.4 1.4 0 1 0 2.8 0a1.4 1.4 0 1 0 -2.8 0M204.49 386.84a1.4 1.4 0 1 0 2.8 0a1.4 1.4 0 1 0 -2.8 0M206.27 386.3a1.4 1.4 0 1 0 2.8 0a1.4 1.4 0 1 0 -2.8 0M208.04 386.41a1.4 1.4 0 1 0 2.8 0a1.4 1.4 0 1 0 -2.8 0M209.82 386.5a1.4 1.4 0 1 0 2.8 0a1.4 1.4 0 1 0 -2.8 0M211.6 388.1a1.4 1.4 0 1 0 2.8 0a1.4 1.4 0 1 0 -2.8 0M213.38 390.5a1.4 1.4 0 1 0 2.8 0a1.4 1.4 0 1 0 -2.8 0M215.15 391.1a1.4 1.4 0 1 0 2.8 0a1.4 1.4 0 1 0 -2.8 0M216.93 388.1a1.4 1.4 0 1 0 2.8 0a1.4 1.4 0 1 0 -2.8 0M218.71 400.6a1.4 1.4 0 1 0 2.8 0a1.4 1.4 0 1 0 -2.8 0M220.48 391a1.4 1.4 0 1 0 2.8 0a1.4 1.4 0 1 0 -2.8 0M222.26 400.6a1.4 1.4 0 1 0 2.8 0a1.4 1.4 0 1 0 -2.8 0M224.04 407.6a1.4 1.4 0 1 0 2.8 0a1.4 1.4 0 1 0 -2.8 0M225.82 405a1.4 1.4 0 1 0 2.8 0a1.4 1.4 0 1 0 -2.8 0M227.6 403.3a1.4 1.4 0 1 0 2.8 0a1.4 1.4 0 1 0 -2.8 0M229.37 402.5a1.4 1.4 0 1 0 2.8 0a1.4 1.4 0 1 0 -2.8 0M231.15 402.1a1.4 1.4 0 1 0 2.8 0a1.4 1.4 0 1 0 -2.8 0M232.93 386.6a1.4 1.4 0 1 0 2.8 0a1.4 1.4 0 1 0 -2.8 0M234.71 398.4a1.4 1.4 0 1 0 2.8 0a1.4 1.4 0 1 0 -2.8 0M236.48 422.6a1.4 1.4 0 1 0 2.8 0a1.4 1.4 0 1 0 -2.8 0M238.26 385.5a1.4 1.4 0 1 0 2.8 0a1.4 1.4 0 1 0 -2.8 0M240.04 362.6a1.4 1.4 0 1 0 2.8 0a1.4 1.4 0 1 0 -2.8 0M241.82 365.5a1.4 1.4 0 1 0 2.8 0a1.4 1.4 0 1 0 -2.8 0M243.59 391a1.4 1.4 0 1 0 2.8 0a1.4 1.4 0 1 0 -2.8 0M245.37 408.8a1.4 1.4 0 1 0 2.8 0a1.4 1.4 0 1 0 -2.8 0M247.15 408.1a1.4 1.4 0 1 0 2.8 0a1.4 1.4 0 1 0 -2.8 0M248.92 409.8a1.4 1.4 0 1 0 2.8 0a1.4 1.4 0 1 0 -2.8 0M250.7 404.5a1.4 1.4 0 1 0 2.8 0a1.4 1.4 0 1 0 -2.8 0M252.48 409.3a1.4 1.4 0 1 0 2.8 0a1.4 1.4 0 1 0 -2.8 0M254.26 432.4a1.4 1.4 0 1 0 2.8 0a1.4 1.4 0 1 0 -2.8 0M256.04 432.4a1.4 1.4 0 1 0 2.8 0a1.4 1.4 0 1 0 -2.8 0M257.81 435.1a1.4 1.4 0 1 0 2.8 0a1.4 1.4 0 1 0 -2.8 0M259.59 409.5a1.4 1.4 0 1 0 2.8 0a1.4 1.4 0 1 0 -2.8 0M261.37 414a1.4 1.4 0 1 0 2.8 0a1.4 1.4 0 1 0 -2.8 0M263.14 413.4a1.4 1.4 0 1 0 2.8 0a1.4 1.4 0 1 0 -2.8 0M264.92 412.8a1.4 1.4 0 1 0 2.8 0a1.4 1.4 0 1 0 -2.8 0M266.7 406.9a1.4 1.4 0 1 0 2.8 0a1.4 1.4 0 1 0 -2.8 0M268.48 412.8a1.4 1.4 0 1 0 2.8 0a1.4 1.4 0 1 0 -2.8 0M270.25 396.4a1.4 1.4 0 1 0 2.8 0a1.4 1.4 0 1 0 -2.8 0M272.03 406.9a1.4 1.4 0 1 0 2.8 0a1.4 1.4 0 1 0 -2.8 0M273.81 410.4a1.4 1.4 0 1 0 2.8 0a1.4 1.4 0 1 0 -2.8 0M275.59 409.8a1.4 1.4 0 1 0 2.8 0a1.4 1.4 0 1 0 -2.8 0M277.36 416.4a1.4 1.4 0 1 0 2.8 0a1.4 1.4 0 1 0 -2.8 0M279.14 416.4a1.4 1.4 0 1 0 2.8 0a1.4 1.4 0 1 0 -2.8 0M280.92 414.6a1.4 1.4 0 1 0 2.8 0a1.4 1.4 0 1 0 -2.8 0M282.7 418.8a1.4 1.4 0 1 0 2.8 0a1.4 1.4 0 1 0 -2.8 0M284.48 406.3a1.4 1.4 0 1 0 2.8 0a1.4 1.4 0 1 0 -2.8 0M286.25 399.6a1.4 1.4 0 1 0 2.8 0a1.4 1.4 0 1 0 -2.8 0M288.03 390a1.4 1.4 0 1 0 2.8 0a1.4 1.4 0 1 0 -2.8 0M289.81 387.5a1.4 1.4 0 1 0 2.8 0a1.4 1.4 0 1 0 -2.8 0M291.59 385.7a1.4 1.4 0 1 0 2.8 0a1.4 1.4 0 1 0 -2.8 0M293.36 381.6a1.4 1.4 0 1 0 2.8 0a1.4 1.4 0 1 0 -2.8 0M295.14 382.2a1.4 1.4 0 1 0 2.8 0a1.4 1.4 0 1 0 -2.8 0M296.92 383.3a1.4 1.4 0 1 0 2.8 0a1.4 1.4 0 1 0 -2.8 0M298.7 345.3a1.4 1.4 0 1 0 2.8 0a1.4 1.4 0 1 0 -2.8 0M300.47 383.9a1.4 1.4 0 1 0 2.8 0a1.4 1.4 0 1 0 -2.8 0M302.25 381.6a1.4 1.4 0 1 0 2.8 0a1.4 1.4 0 1 0 -2.8 0M304.03 368.5a1.4 1.4 0 1 0 2.8 0a1.4 1.4 0 1 0 -2.8 0M305.8 340a1.4 1.4 0 1 0 2.8 0a1.4 1.4 0 1 0 -2.8 0M307.58 347.4a1.4 1.4 0 1 0 2.8 0a1.4 1.4 0 1 0 -2.8 0M309.36 275.9a1.4 1.4 0 1 0 2.8 0a1.4 1.4 0 1 0 -2.8 0M311.14 315.1a1.4 1.4 0 1 0 2.8 0a1.4 1.4 0 1 0 -2.8 0M312.91 261.4a1.4 1.4 0 1 0 2.8 0a1.4 1.4 0 1 0 -2.8 0M314.69 222a1.4 1.4 0 1 0 2.8 0a1.4 1.4 0 1 0 -2.8 0M316.47 241a1.4 1.4 0 1 0 2.8 0a1.4 1.4 0 1 0 -2.8 0M318.25 212.2a1.4 1.4 0 1 0 2.8 0a1.4 1.4 0 1 0 -2.8 0M320.02 161.5a1.4 1.4 0 1 0 2.8 0a1.4 1.4 0 1 0 -2.8 0M321.8 145.2a1.4 1.4 0 1 0 2.8 0a1.4 1.4 0 1 0 -2.8 0M323.58 144.5a1.4 1.4 0 1 0 2.8 0a1.4 1.4 0 1 0 -2.8 0M325.36 205.3a1.4 1.4 0 1 0 2.8 0a1.4 1.4 0 1 0 -2.8 0M327.13 235.4a1.4 1.4 0 1 0 2.8 0a1.4 1.4 0 1 0 -2.8 0M328.91 201.8a1.4 1.4 0 1 0 2.8 0a1.4 1.4 0 1 0 -2.8 0M330.69 233a1.4 1.4 0 1 0 2.8 0a1.4 1.4 0 1 0 -2.8 0M332.47 328.8a1.4 1.4 0 1 0 2.8 0a1.4 1.4 0 1 0 -2.8 0M334.24 331.8a1.4 1.4 0 1 0 2.8 0a1.4 1.4 0 1 0 -2.8 0M336.02 341.8a1.4 1.4 0 1 0 2.8 0a1.4 1.4 0 1 0 -2.8 0M337.8 338.9a1.4 1.4 0 1 0 2.8 0a1.4 1.4 0 1 0 -2.8 0M339.58 242.4a1.4 1.4 0 1 0 2.8 0a1.4 1.4 0 1 0 -2.8 0M341.35 338.3a1.4 1.4 0 1 0 2.8 0a1.4 1.4 0 1 0 -2.8 0M343.13 349.5a1.4 1.4 0 1 0 2.8 0a1.4 1.4 0 1 0 -2.8 0M344.91 381.5a1.4 1.4 0 1 0 2.8 0a1.4 1.4 0 1 0 -2.8 0M346.69 371.5a1.4 1.4 0 1 0 2.8 0a1.4 1.4 0 1 0 -2.8 0M348.47 410.6a1.4 1.4 0 1 0 2.8 0a1.4 1.4 0 1 0 -2.8 0M350.24 411.2a1.4 1.4 0 1 0 2.8 0a1.4 1.4 0 1 0 -2.8 0M352.02 404.7a1.4 1.4 0 1 0 2.8 0a1.4 1.4 0 1 0 -2.8 0M353.8 397.6a1.4 1.4 0 1 0 2.8 0a1.4 1.4 0 1 0 -2.8 0M355.58 399.9a1.4 1.4 0 1 0 2.8 0a1.4 1.4 0 1 0 -2.8 0M357.35 393.4a1.4 1.4 0 1 0 2.8 0a1.4 1.4 0 1 0 -2.8 0M359.13 397.8a1.4 1.4 0 1 0 2.8 0a1.4 1.4 0 1 0 -2.8 0M360.91 393a1.4 1.4 0 1 0 2.8 0a1.4 1.4 0 1 0 -2.8 0M362.68 389.3a1.4 1.4 0 1 0 2.8 0a1.4 1.4 0 1 0 -2.8 0M364.46 388.5a1.4 1.4 0 1 0 2.8 0a1.4 1.4 0 1 0 -2.8 0M366.24 387.3a1.4 1.4 0 1 0 2.8 0a1.4 1.4 0 1 0 -2.8 0M368.02 384.3a1.4 1.4 0 1 0 2.8 0a1.4 1.4 0 1 0 -2.8 0M369.79 390a1.4 1.4 0 1 0 2.8 0a1.4 1.4 0 1 0 -2.8 0M371.57 379.8a1.4 1.4 0 1 0 2.8 0a1.4 1.4 0 1 0 -2.8 0M373.35 404.1a1.4 1.4 0 1 0 2.8 0a1.4 1.4 0 1 0 -2.8 0M375.13 389.1a1.4 1.4 0 1 0 2.8 0a1.4 1.4 0 1 0 -2.8 0M376.9 383.1a1.4 1.4 0 1 0 2.8 0a1.4 1.4 0 1 0 -2.8 0M378.68 383.2a1.4 1.4 0 1 0 2.8 0a1.4 1.4 0 1 0 -2.8 0M380.46 376.5a1.4 1.4 0 1 0 2.8 0a1.4 1.4 0 1 0 -2.8 0M382.24 418.3a1.4 1.4 0 1 0 2.8 0a1.4 1.4 0 1 0 -2.8 0M384.01 386.3a1.4 1.4 0 1 0 2.8 0a1.4 1.4 0 1 0 -2.8 0M385.79 387.5a1.4 1.4 0 1 0 2.8 0a1.4 1.4 0 1 0 -2.8 0M387.57 383.2a1.4 1.4 0 1 0 2.8 0a1.4 1.4 0 1 0 -2.8 0M389.35 377a1.4 1.4 0 1 0 2.8 0a1.4 1.4 0 1 0 -2.8 0M391.12 333.9a1.4 1.4 0 1 0 2.8 0a1.4 1.4 0 1 0 -2.8 0M392.9 318.5a1.4 1.4 0 1 0 2.8 0a1.4 1.4 0 1 0 -2.8 0M394.68 349.7a1.4 1.4 0 1 0 2.8 0a1.4 1.4 0 1 0 -2.8 0M396.46 288.8a1.4 1.4 0 1 0 2.8 0a1.4 1.4 0 1 0 -2.8 0M398.23 288.4a1.4 1.4 0 1 0 2.8 0a1.4 1.4 0 1 0 -2.8 0M400.01 335.9a1.4 1.4 0 1 0 2.8 0a1.4 1.4 0 1 0 -2.8 0M401.79 325.6a1.4 1.4 0 1 0 2.8 0a1.4 1.4 0 1 0 -2.8 0M403.57 303.8a1.4 1.4 0 1 0 2.8 0a1.4 1.4 0 1 0 -2.8 0M405.35 300.3a1.4 1.4 0 1 0 2.8 0a1.4 1.4 0 1 0 -2.8 0M407.12 312.5a1.4 1.4 0 1 0 2.8 0a1.4 1.4 0 1 0 -2.8 0M408.9 289.6a1.4 1.4 0 1 0 2.8 0a1.4 1.4 0 1 0 -2.8 0M410.68 312.8a1.4 1.4 0 1 0 2.8 0a1.4 1.4 0 1 0 -2.8 0M412.46 347.6a1.4 1.4 0 1 0 2.8 0a1.4 1.4 0 1 0 -2.8 0M414.23 295.5a1.4 1.4 0 1 0 2.8 0a1.4 1.4 0 1 0 -2.8 0M416.01 305.6a1.4 1.4 0 1 0 2.8 0a1.4 1.4 0 1 0 -2.8 0M417.79 328.4a1.4 1.4 0 1 0 2.8 0a1.4 1.4 0 1 0 -2.8 0M419.57 353.7a1.4 1.4 0 1 0 2.8 0a1.4 1.4 0 1 0 -2.8 0M421.34 370.7a1.4 1.4 0 1 0 2.8 0a1.4 1.4 0 1 0 -2.8 0M423.12 379.6a1.4 1.4 0 1 0 2.8 0a1.4 1.4 0 1 0 -2.8 0M424.9 384.6a1.4 1.4 0 1 0 2.8 0a1.4 1.4 0 1 0 -2.8 0M426.67 387.3a1.4 1.4 0 1 0 2.8 0a1.4 1.4 0 1 0 -2.8 0M428.45 386.7a1.4 1.4 0 1 0 2.8 0a1.4 1.4 0 1 0 -2.8 0M430.23 389.7a1.4 1.4 0 1 0 2.8 0a1.4 1.4 0 1 0 -2.8 0M432.01 388.5a1.4 1.4 0 1 0 2.8 0a1.4 1.4 0 1 0 -2.8 0M433.78 397.4a1.4 1.4 0 1 0 2.8 0a1.4 1.4 0 1 0 -2.8 0M435.56 390.3a1.4 1.4 0 1 0 2.8 0a1.4 1.4 0 1 0 -2.8 0M437.34 393.3a1.4 1.4 0 1 0 2.8 0a1.4 1.4 0 1 0 -2.8 0M439.12 385.5a1.4 1.4 0 1 0 2.8 0a1.4 1.4 0 1 0 -2.8 0M440.89 385.5a1.4 1.4 0 1 0 2.8 0a1.4 1.4 0 1 0 -2.8 0M442.67 391.5a1.4 1.4 0 1 0 2.8 0a1.4 1.4 0 1 0 -2.8 0M444.45 393.3a1.4 1.4 0 1 0 2.8 0a1.4 1.4 0 1 0 -2.8 0M446.23 387.9a1.4 1.4 0 1 0 2.8 0a1.4 1.4 0 1 0 -2.8 0M448 379.6a1.4 1.4 0 1 0 2.8 0a1.4 1.4 0 1 0 -2.8 0M449.78 381.4a1.4 1.4 0 1 0 2.8 0a1.4 1.4 0 1 0 -2.8 0M451.56 383.8a1.4 1.4 0 1 0 2.8 0a1.4 1.4 0 1 0 -2.8 0M453.34 371.5a1.4 1.4 0 1 0 2.8 0a1.4 1.4 0 1 0 -2.8 0M455.11 396.2a1.4 1.4 0 1 0 2.8 0a1.4 1.4 0 1 0 -2.8 0M456.89 387.3a1.4 1.4 0 1 0 2.8 0a1.4 1.4 0 1 0 -2.8 0M458.67 382.6a1.4 1.4 0 1 0 2.8 0a1.4 1.4 0 1 0 -2.8 0M460.45 406.3a1.4 1.4 0 1 0 2.8 0a1.4 1.4 0 1 0 -2.8 0M462.22 385a1.4 1.4 0 1 0 2.8 0a1.4 1.4 0 1 0 -2.8 0M464 387.9a1.4 1.4 0 1 0 2.8 0a1.4 1.4 0 1 0 -2.8 0M465.78 399.2a1.4 1.4 0 1 0 2.8 0a1.4 1.4 0 1 0 -2.8 0M467.56 381.4a1.4 1.4 0 1 0 2.8 0a1.4 1.4 0 1 0 -2.8 0M469.34 392.1a1.4 1.4 0 1 0 2.8 0a1.4 1.4 0 1 0 -2.8 0M471.11 368.6a1.4 1.4 0 1 0 2.8 0a1.4 1.4 0 1 0 -2.8 0M472.89 412.8a1.4 1.4 0 1 0 2.8 0a1.4 1.4 0 1 0 -2.8 0M474.67 390.9a1.4 1.4 0 1 0 2.8 0a1.4 1.4 0 1 0 -2.8 0M476.45 380.5a1.4 1.4 0 1 0 2.8 0a1.4 1.4 0 1 0 -2.8 0M478.22 330.4a1.4 1.4 0 1 0 2.8 0a1.4 1.4 0 1 0 -2.8 0M480 389.1a1.4 1.4 0 1 0 2.8 0a1.4 1.4 0 1 0 -2.8 0M481.78 234.6a1.4 1.4 0 1 0 2.8 0a1.4 1.4 0 1 0 -2.8 0M483.55 213a1.4 1.4 0 1 0 2.8 0a1.4 1.4 0 1 0 -2.8 0M485.33 213a1.4 1.4 0 1 0 2.8 0a1.4 1.4 0 1 0 -2.8 0M487.11 262.3a1.4 1.4 0 1 0 2.8 0a1.4 1.4 0 1 0 -2.8 0M488.89 263.8a1.4 1.4 0 1 0 2.8 0a1.4 1.4 0 1 0 -2.8 0M490.66 249.5a1.4 1.4 0 1 0 2.8 0a1.4 1.4 0 1 0 -2.8 0M492.44 247.4a1.4 1.4 0 1 0 2.8 0a1.4 1.4 0 1 0 -2.8 0M494.22 228.4a1.4 1.4 0 1 0 2.8 0a1.4 1.4 0 1 0 -2.8 0M496 151.8a1.4 1.4 0 1 0 2.8 0a1.4 1.4 0 1 0 -2.8 0M497.77 215.1a1.4 1.4 0 1 0 2.8 0a1.4 1.4 0 1 0 -2.8 0M499.55 227.9a1.4 1.4 0 1 0 2.8 0a1.4 1.4 0 1 0 -2.8 0M501.33 245a1.4 1.4 0 1 0 2.8 0a1.4 1.4 0 1 0 -2.8 0M503.11 214a1.4 1.4 0 1 0 2.8 0a1.4 1.4 0 1 0 -2.8 0M504.88 300a1.4 1.4 0 1 0 2.8 0a1.4 1.4 0 1 0 -2.8 0M506.66 270.3a1.4 1.4 0 1 0 2.8 0a1.4 1.4 0 1 0 -2.8 0M508.44 307.7a1.4 1.4 0 1 0 2.8 0a1.4 1.4 0 1 0 -2.8 0M510.22 316.5a1.4 1.4 0 1 0 2.8 0a1.4 1.4 0 1 0 -2.8 0M511.99 352.2a1.4 1.4 0 1 0 2.8 0a1.4 1.4 0 1 0 -2.8 0M513.77 368.8a1.4 1.4 0 1 0 2.8 0a1.4 1.4 0 1 0 -2.8 0M515.55 395.3a1.4 1.4 0 1 0 2.8 0a1.4 1.4 0 1 0 -2.8 0M517.33 426.2a1.4 1.4 0 1 0 2.8 0a1.4 1.4 0 1 0 -2.8 0M519.1 406.6a1.4 1.4 0 1 0 2.8 0a1.4 1.4 0 1 0 -2.8 0M520.88 398.8a1.4 1.4 0 1 0 2.8 0a1.4 1.4 0 1 0 -2.8 0M522.66 394.7a1.4 1.4 0 1 0 2.8 0a1.4 1.4 0 1 0 -2.8 0M524.44 399.4a1.4 1.4 0 1 0 2.8 0a1.4 1.4 0 1 0 -2.8 0M526.22 403a1.4 1.4 0 1 0 2.8 0a1.4 1.4 0 1 0 -2.8 0M527.99 395.9a1.4 1.4 0 1 0 2.8 0a1.4 1.4 0 1 0 -2.8 0M529.77 396.5a1.4 1.4 0 1 0 2.8 0a1.4 1.4 0 1 0 -2.8 0M531.55 397.1a1.4 1.4 0 1 0 2.8 0a1.4 1.4 0 1 0 -2.8 0M533.33 392.3a1.4 1.4 0 1 0 2.8 0a1.4 1.4 0 1 0 -2.8 0M535.1 387.6a1.4 1.4 0 1 0 2.8 0a1.4 1.4 0 1 0 -2.8 0M536.88 385.8a1.4 1.4 0 1 0 2.8 0a1.4 1.4 0 1 0 -2.8 0M538.66 382.8a1.4 1.4 0 1 0 2.8 0a1.4 1.4 0 1 0 -2.8 0M540.43 380.4a1.4 1.4 0 1 0 2.8 0a1.4 1.4 0 1 0 -2.8 0M542.21 381.6a1.4 1.4 0 1 0 2.8 0a1.4 1.4 0 1 0 -2.8 0M543.99 377.5a1.4 1.4 0 1 0 2.8 0a1.4 1.4 0 1 0 -2.8 0M545.77 382.8a1.4 1.4 0 1 0 2.8 0a1.4 1.4 0 1 0 -2.8 0M547.54 388.8a1.4 1.4 0 1 0 2.8 0a1.4 1.4 0 1 0 -2.8 0M549.32 377.5a1.4 1.4 0 1 0 2.8 0a1.4 1.4 0 1 0 -2.8 0M551.1 380.4a1.4 1.4 0 1 0 2.8 0a1.4 1.4 0 1 0 -2.8 0M552.88 366.8a1.4 1.4 0 1 0 2.8 0a1.4 1.4 0 1 0 -2.8 0M554.65 381.6a1.4 1.4 0 1 0 2.8 0a1.4 1.4 0 1 0 -2.8 0M556.43 384a1.4 1.4 0 1 0 2.8 0a1.4 1.4 0 1 0 -2.8 0M558.21 381.6a1.4 1.4 0 1 0 2.8 0a1.4 1.4 0 1 0 -2.8 0M559.99 357.5a1.4 1.4 0 1 0 2.8 0a1.4 1.4 0 1 0 -2.8 0M561.76 344.7a1.4 1.4 0 1 0 2.8 0a1.4 1.4 0 1 0 -2.8 0M563.54 318.3a1.4 1.4 0 1 0 2.8 0a1.4 1.4 0 1 0 -2.8 0M565.32 342.3a1.4 1.4 0 1 0 2.8 0a1.4 1.4 0 1 0 -2.8 0M567.1 291.6a1.4 1.4 0 1 0 2.8 0a1.4 1.4 0 1 0 -2.8 0M568.87 263.7a1.4 1.4 0 1 0 2.8 0a1.4 1.4 0 1 0 -2.8 0M570.65 274.3a1.4 1.4 0 1 0 2.8 0a1.4 1.4 0 1 0 -2.8 0M572.43 268.8a1.4 1.4 0 1 0 2.8 0a1.4 1.4 0 1 0 -2.8 0M574.21 235.4a1.4 1.4 0 1 0 2.8 0a1.4 1.4 0 1 0 -2.8 0M575.98 304.9a1.4 1.4 0 1 0 2.8 0a1.4 1.4 0 1 0 -2.8 0M577.76 246.8a1.4 1.4 0 1 0 2.8 0a1.4 1.4 0 1 0 -2.8 0M579.54 232.2a1.4 1.4 0 1 0 2.8 0a1.4 1.4 0 1 0 -2.8 0M581.32 238.1a1.4 1.4 0 1 0 2.8 0a1.4 1.4 0 1 0 -2.8 0M583.1 255.1a1.4 1.4 0 1 0 2.8 0a1.4 1.4 0 1 0 -2.8 0M584.87 227.2a1.4 1.4 0 1 0 2.8 0a1.4 1.4 0 1 0 -2.8 0M586.65 221.2a1.4 1.4 0 1 0 2.8 0a1.4 1.4 0 1 0 -2.8 0M588.43 256.5a1.4 1.4 0 1 0 2.8 0a1.4 1.4 0 1 0 -2.8 0M590.21 313a1.4 1.4 0 1 0 2.8 0a1.4 1.4 0 1 0 -2.8 0M591.98 352.2a1.4 1.4 0 1 0 2.8 0a1.4 1.4 0 1 0 -2.8 0M593.76 370.3a1.4 1.4 0 1 0 2.8 0a1.4 1.4 0 1 0 -2.8 0M595.54 348.2a1.4 1.4 0 1 0 2.8 0a1.4 1.4 0 1 0 -2.8 0M597.31 387.6a1.4 1.4 0 1 0 2.8 0a1.4 1.4 0 1 0 -2.8 0M599.09 397.4a1.4 1.4 0 1 0 2.8 0a1.4 1.4 0 1 0 -2.8 0M600.87 392.7a1.4 1.4 0 1 0 2.8 0a1.4 1.4 0 1 0 -2.8 0M602.65 402.2a1.4 1.4 0 1 0 2.8 0a1.4 1.4 0 1 0 -2.8 0M604.42 401.6a1.4 1.4 0 1 0 2.8 0a1.4 1.4 0 1 0 -2.8 0M606.2 403.9a1.4 1.4 0 1 0 2.8 0a1.4 1.4 0 1 0 -2.8 0M607.98 398.6a1.4 1.4 0 1 0 2.8 0a1.4 1.4 0 1 0 -2.8 0M609.76 398.6a1.4 1.4 0 1 0 2.8 0a1.4 1.4 0 1 0 -2.8 0M611.53 403.7a1.4 1.4 0 1 0 2.8 0a1.4 1.4 0 1 0 -2.8 0M613.31 402.8a1.4 1.4 0 1 0 2.8 0a1.4 1.4 0 1 0 -2.8 0M615.09 406.9a1.4 1.4 0 1 0 2.8 0a1.4 1.4 0 1 0 -2.8 0M616.87 398.6a1.4 1.4 0 1 0 2.8 0a1.4 1.4 0 1 0 -2.8 0M618.64 409.3a1.4 1.4 0 1 0 2.8 0a1.4 1.4 0 1 0 -2.8 0" fill="none" stroke="#0f0" stroke-width="0.7"/>
<polyline points="115.24,391.6 117.01,386.5 118.79,388.05 120.57,389.67 122.35,391.45 124.12,391.34 125.9,387.74 127.68,384.5 129.46,385.51 131.23,386.13 133.01,386.5 134.79,384.61 136.56,383.17 138.34,379.37 140.12,372.8 141.9,376.4 143.68,369.7 145.45,362 147.23,345.5 149.01,374.8 150.79,362.3 152.56,358.5 154.34,375.1 156.12,354.9 157.9,361.6 159.67,363.6 161.45,363.6 163.23,365.3 165,349.1 166.78,366.1 168.56,380.9 170.34,379.8 172.12,385.2 173.89,389.2 175.67,396 177.45,396.6 179.23,397.51 181,398.6 182.78,396.6 184.56,396 186.34,396 188.11,394.59 189.89,392.81 191.67,393.47 193.44,396.6 195.22,401.7 197,392.6 198.78,383.3 200.56,386.3 202.33,386.64 204.11,386.9 205.89,385.91 207.67,385.1 209.44,385.6 211.22,386 213,387.5 214.78,390.5 216.55,391.1 218.33,387.5 220.11,401.8 221.88,395.8 223.66,403.2 225.44,413.4 227.22,418.2 229,406.9 230.77,413.4 232.55,404.6 234.33,396.9 236.11,423.1 237.88,426.1 239.66,395.1 241.44,367.3 243.22,370.6 244.99,399 246.77,419.3 248.55,425.9 250.32,414 252.1,412.8 253.88,414 255.66,455 257.44,443.7 259.21,457 260.99,427.1 262.77,441.7 264.54,422.3 266.32,419.3 268.1,406.9 269.88,406.9 271.65,407.5 273.43,414.6 275.21,417.6 276.99,418.2 278.76,425.3 280.54,426.8 282.32,419.9 284.1,422.3 285.88,406.3 287.65,404.3 289.43,364.7 291.21,387.5 292.99,385.7 294.76,379.8 296.54,382.2 298.32,383.3 300.1,349.5 301.87,383.9 303.65,382.2 305.43,370.3 307.2,342.4 308.98,344.8 310.76,263.9 312.54,291.4 314.31,257.2 316.09,220.8 317.87,241 319.65,206.2 321.42,162.3 323.2,163.3 324.98,152.3 326.76,210.5 328.53,229.1 330.31,191.8 332.09,236.8 333.87,301.5 335.64,335.3 337.42,330 339.2,350.3 340.98,238 342.75,323.4 344.53,353.3 346.31,393.2 348.09,382.6 349.87,409.8 351.64,413.6 353.42,409.5 355.2,398.8 356.98,401.1 358.75,393.4 360.53,399.3 362.31,394 364.08,389.3 365.86,387.5 367.64,386.3 369.42,383.3 371.19,395 372.97,380.3 374.75,399.8 376.53,388.7 378.3,382.1 380.08,382.7 381.86,380.4 383.64,383.3 385.41,386.3 387.19,387.5 388.97,379.4 390.75,379.6 392.52,346.6 394.3,359.2 396.08,350.9 397.86,285.2 399.63,295.9 401.41,330 403.19,311.8 404.97,303.5 406.75,306.2 408.52,343.4 410.3,323.4 412.08,324 413.86,355.6 415.63,297.9 417.41,305.6 419.19,318.7 420.97,353.7 422.74,366.6 424.52,385 426.3,388.8 428.07,387.9 429.85,387.3 431.63,392.7 433.41,392.1 435.18,400.6 436.96,388.5 438.74,393.8 440.52,380.8 442.29,385.5 444.07,391.5 445.85,391.5 447.63,384.3 449.4,380.2 451.18,382 452.96,382.6 454.74,377.8 456.51,414.6 458.29,383.2 460.07,386.1 461.85,414.6 463.62,382 465.4,384.3 467.18,399.8 468.96,380.8 470.74,393.3 472.51,380.8 474.29,420 476.07,371.3 477.85,363.7 479.62,325.4 481.4,372.4 483.18,197.3 484.95,187.5 486.73,200.5 488.51,240.8 490.29,269.9 492.06,247.7 493.84,247.4 495.62,214.4 497.4,134.1 499.17,215.1 500.95,240.3 502.73,231.8 504.51,218.7 506.28,293.4 508.06,267.1 509.84,316.9 511.62,324.5 513.39,364.4 515.17,371.2 516.95,402.2 518.73,420.2 520.5,406.9 522.28,392.3 524.06,394.7 525.84,397.1 527.62,403.6 529.39,394.1 531.17,398.6 532.95,400.6 534.73,392.9 536.5,388.8 538.28,387.6 540.06,383.4 541.83,379.8 543.61,381 545.39,388.8 547.17,383.4 548.94,385.8 550.72,368.3 552.5,382.8 554.28,377.5 556.05,382.8 557.83,386.1 559.61,382.2 561.39,360.5 563.16,354.9 564.94,317.7 566.72,320.1 568.5,277.3 570.27,258.6 572.05,267.8 573.83,283.3 575.61,225.6 577.38,316.3 579.16,231.8 580.94,205.4 582.72,235.1 584.5,247.6 586.27,233.3 588.05,220.9 589.83,250.6 591.61,301.9 593.38,353.3 595.16,360.2 596.94,344.2 598.71,387.6 600.49,392.1 602.27,396.2 604.05,406.3 605.82,406.9 607.6,408.5 609.38,408.9 611.16,404.5 612.93,409.9 614.71,407.5 616.49,415.8 618.27,409.9 620.04,412.3" fill="none" stroke="#f00" stroke-width="0.35" stroke-linejoin="round"/>
<path d="M113.84 391.6a1.4 1.4 0 1 0 2.8 0a1.4 1.4 0 1 0 -2.8 0M115.61 386.5a1.4 1.4 0 1 0 2.8 0a1.4 1.4 0 1 0 -2.8 0M117.39 388.05a1.4 1.4 0 1 0 2.8 0a1.4 1.4 0 1 0 -2.8 0M119.17 389.67a1.4 1.4 0 1 0 2.8 0a1.4 1.4 0 1 0 -2.8 0M120.95 391.45a1.4 1.4 0 1 0 2.8 0a1.4 1.4 0 1 0 -2.8 0M122.72 391.34a1.4 1.4 0 1 0 2.8 0a1.4 1.4 0 1 0 -2.8 0M124.5 387.74a1.4 1.4 0 1 0 2.8 0a1.4 1.4 0 1 0 -2.8 0M126.28 384.5a1.4 1.4 0 1 0 2.8 0a1.4 1.4 0 1 0 -2.8 0M128.06 385.51a1.4 1.4 0 1 0 2.8 0a1.4 1.4 0 1 0 -2.8 0M129.83 386.13a1.4 1.4 0 1 0 2.8 0a1.4 1.4 0 1 0 -2.8 0M131.61 386.5a1.4 1.4 0 1 0 2.8 0a1.4 1.4 0 1 0 -2.8 0M133.39 384.61a1.4 1.4 0 1 0 2.8 0a1.4 1.4 0 1 0 -2.8 0M135.16 383.17a1.4 1.4 0 1 0 2.8 0a1.4 1.4 0 1 0 -2.8 0M136.94 379.37a1.4 1.4 0 1 0 2.8 0a1.4 1.4 0 1 0 -2.8 0M138.72 372.8a1.4 1.4 0 1 0 2.8 0a1.4 1.4 0 1 0 -2.8 0M140.5 376.4a1.4 1.4 0 1 0 2.8 0a1.4 1.4 0 1 0 -2.8 0M142.28 369.7a1.4 1.4 0 1 0 2.8 0a1.4 1.4 0 1 0 -2.8 0M144.05 362a1.4 1.4 0 1 0 2.8 0a1.4 1.4 0 1 0 -2.8 0M145.83 345.5a1.4 1.4 0 1 0 2.8 0a1.4 1.4 0 1 0 -2.8 0M147.61 374.8a1.4 1.4 0 1 0 2.8 0a1.4 1.4 0 1 0 -2.8 0M149.39 362.3a1.4 1.4 0 1 0 2.8 0a1.4 1.4 0 1 0 -2.8 0M151.16 358.5a1.4 1.4 0 1 0 2.8 0a1.4 1.4 0 1 0 -2.8 0M152.94 375.1a1.4 1.4 0 1 0 2.8 0a1.4 1.4 0 1 0 -2.8 0M154.72 354.9a1.4 1.4 0 1 0 2.8 0a1.4 1.4 0 1 0 -2.8 0M156.5 361.6a1.4 1.4 0 1 0 2.8 0a1.4 1.4 0 1 0 -2.8 0M158.27 363.6a1.4 1.4 0 1 0 2.8 0a1.4 1.4 0 1 0 -2.8 0M160.05 363.6a1.4 1.4 0 1 0 2.8 0a1.4 1.4 0 1 0 -2.8 0M161.83 365.3a1.4 1.4 0 1 0 2.8 0a1.4 1.4 0 1 0 -2.8 0M163.6 349.1a1.4 1.4 0 1 0 2.8 0a1.4 1.4 0 1 0 -2.8 0M165.38 366.1a1.4 1.4 0 1 0 2.8 0a1.4 1.4 0 1 0 -2.8 0M167.16 380.9a1.4 1.4 0 1 0 2.8 0a1.4 1.4 0 1 0 -2.8 0M168.94 379.8a1.4 1.4 0 1 0 2.8 0a1.4 1.4 0 1 0 -2.8 0M170.72 385.2a1.4 1.4 0 1 0 2.8 0a1.4 1.4 0 1 0 -2.8 0M172.49 389.2a1.4 1.4 0 1 0 2.8 0a1.4 1.4 0 1 0 -2.8 0M174.27 396a1.4 1.4 0 1 0 2.8 0a1.4 1.4 0 1 0 -2.8 0M176.05 396.6a1.4 1.4 0 1 0 2.8 0a1.4 1.4 0 1 0 -2.8 0M177.83 397.51a1.4 1.4 0 1 0 2.8 0a1.4 1.4 0 1 0 -2.8 0M179.6 398.6a1.4 1.4 0 1 0 2.8 0a1.4 1.4 0 1 0 -2.8 0M181.38 396.6a1.4 1.4 0 1 0 2.8 0a1.4 1.4 0 1 0 -2.8 0M183.16 396a1.4 1.4 0 1 0 2.8 0a1.4 1.4 0 1 0 -2.8 0M184.94 396a1.4 1.4 0 1 0 2.8 0a1.4 1.4 0 1 0 -2.8 0M186.71 394.59a1.4 1.4 0 1 0 2.8 0a1.4 1.4 0 1 0 -2.8 0M188.49 392.81a1.4 1.4 0 1 0 2.8 0a1.4 1.4 0 1 0 -2.8 0M190.27 393.47a1.4 1.4 0 1 0 2.8 0a1.4 1.4 0 1 0 -2.8 0M192.04 396.6a1.4 1.4 0 1 0 2.8 0a1.4 1.4 0 1 0 -2.8 0M193.82 401.7a1.4 1.4 0 1 0 2.8 0a1.4 1.4 0 1 0 -2.8 0M195.6 392.6a1.4 1.4 0 1 0 2.8 0a1.4 1.4 0 1 0 -2.8 0M197.38 383.3a1.4 1.4 0 1 0 2.8 0a1.4 1.4 0 1 0 -2.8 0M199.16 386.3a1.4 1.4 0 1 0 2.8 0a1.4 1.4 0 1 0 -2.8 0M200.93 386.64a1.4 1.4 0 1 0 2.8 0a1.4 1.4 0 1 0 -2.8 0M202.71 386.9a1.4 1.4 0 1 0 2.8 0a1.4 1.4 0 1 0 -2.8 0M204.49 385.91a1.4 1.4 0 1 0 2.8 0a1.4 1.4 0 1 0 -2.8 0M206.27 385.1a1.4 1.4 0 1 0 2.8 0a1.4 1.4 0 1 0 -2.8 0M208.04 385.6a1.4 1.4 0 1 0 2.8 0a1.4 1.4 0 1 0 -2.8 0M209.82 386a1.4 1.4 0 1 0 2.8 0a1.4 1.4 0 1 0 -2.8 0M211.6 387.5a1.4 1.4 0 1 0 2.8 0a1.4 1.4 0 1 0 -2.8 0M213.38 390.5a1.4 1.4 0 1 0 2.8 0a1.4 1.4 0 1 0 -2.8 0M215.15 391.1a1.4 1.4 0 1 0 2.8 0a1.4 1.4 0 1 0 -2.8 0M216.93 387.5a1.4 1.4 0 1 0 2.8 0a1.4 1.4 0 1 0 -2.8 0M218.71 401.8a1.4 1.4 0 1 0 2.8 0a1.4 1.4 0 1 0 -2.8 0M220.48 395.8a1.4 1.4 0 1 0 2.8 0a1.4 1.4 0 1 0 -2.8 0M222.26 403.2a1.4 1.4 0 1 0 2.8 0a1.4 1.4 0 1 0 -2.8 0M224.04 413.4a1.4 1.4 0 1 0 2.8 0a1.4 1.4 0 1 0 -2.8 0M225.82 418.2a1.4 1.4 0 1 0 2.8 0a1.4 1.4 0 1 0 -2.8 0M227.6 406.9a1.4 1.4 0 1 0 2.8 0a1.4 1.4 0 1 0 -2.8 0M229.37 413.4a1.4 1.4 0 1 0 2.8 0a1.4 1.4 0 1 0 -2.8 0M231.15 404.6a1.4 1.4 0 1 0 2.8 0a1.4 1.4 0 1 0 -2.8 0M232.93 396.9a1.4 1.4 0 1 0 2.8 0a1.4 1.4 0 1 0 -2.8 0M234.71 423.1a1.4 1.4 0 1 0 2.8 0a1.4 1.4 0 1 0 -2.8 0M236.48 426.1a1.4 1.4 0 1 0 2.8 0a1.4 1.4 0 1 0 -2.8 0M238.26 395.1a1.4 1.4 0 1 0 2.8 0a1.4 1.4 0 1 0 -2.8 0M240.04 367.3a1.4 1.4 0 1 0 2.8 0a1.4 1.4 0 1 0 -2.8 0M241.82 370.6a1.4 1.4 0 1 0 2.8 0a1.4 1.4 0 1 0 -2.8 0M243.59 399a1.4 1.4 0 1 0 2.8 0a1.4 1.4 0 1 0 -2.8 0M245.37 419.3a1.4 1.4 0 1 0 2.8 0a1.4 1.4 0 1 0 -2.8 0M247.15 425.9a1.4 1.4 0 1 0 2.8 0a1.4 1.4 0 1 0 -2.8 0M248.92 414a1.4 1.4 0 1 0 2.8 0a1.4 1.4 0 1 0 -2.8 0M250.7 412.8a1.4 1.4 0 1 0 2.8 0a1.4 1.4 0 1 0 -2.8 0M252.48 414a1.4 1.4 0 1 0 2.8 0a1.4 1.4 0 1 0 -2.8 0M254.26 455a1.4 1.4 0 1 0 2.8 0a1.4 1.4 0 1 0 -2.8 0M256.04 443.7a1.4 1.4 0 1 0 2.8 0a1.4 1.4 0 1 0 -2.8 0M257.81 457a1.4 1.4 0 1 0 2.8 0a1.4 1.4 0 1 0 -2.8 0M259.59 427.1a1.4 1.4 0 1 0 2.8 0a1.4 1.4 0 1 0 -2.8 0M261.37 441.7a1.4 1.4 0 1 0 2.8 0a1.4 1.4 0 1 0 -2.8 0M263.14 422.3a1.4 1.4 0 1 0 2.8 0a1.4 1.4 0 1 0 -2.8 0M264.92 419.3a1.4 1.4 0 1 0 2.8 0a1.4 1.4 0 1 0 -2.8 0M266.7 406.9a1.4 1.4 0 1 0 2.8 0a1.4 1.4 0 1 0 -2.8 0M268.48 406.9a1.4 1.4 0 1 0 2.8 0a1.4 1.4 0 1 0 -2.8 0M270.25 407.5a1.4 1.4 0 1 0 2.8 0a1.4 1.4 0 1 0 -2.8 0M272.03 414.6a1.4 1.4 0 1 0 2.8 0a1.4 1.4 0 1 0 -2.8 0M273.81 417.6a1.4 1.4 0 1 0 2.8 0a1.4 1.4 0 1 0 -2.8 0M275.59 418.2a1.4 1.4 0 1 0 2.8 0a1.4 1.4 0 1 0 -2.8 0M277.36 425.3a1.4 1.4 0 1 0 2.8 0a1.4 1.4 0 1 0 -2.8 0M279.14 426.8a1.4 1.4 0 1 0 2.8 0a1.4 1.4 0 1 0 -2.8 0M280.92 419.9a1.4 1.4 0 1 0 2.8 0a1.4 1.4 0 1 0 -2.8 0M282.7 422.3a1.4 1.4 0 1 0 2.8 0a1.4 1.4 0 1 0 -2.8 0M284.48 406.3a1.4 1.4 0 1 0 2.8 0a1.4 1.4 0 1 0 -2.8 0M286.25 404.3a1.4 1.4 0 1 0 2.8 0a1.4 1.4 0 1 0 -2.8 0M288.03 364.7a1.4 1.4 0 1 0 2.8 0a1.4 1.4 0 1 0 -2.8 0M289.81 387.5a1.4 1.4 0 1 0 2.8 0a1.4 1.4 0 1 0 -2.8 0M291.59 385.7a1.4 1.4 0 1 0 2.8 0a1.4 1.4 0 1 0 -2.8 0M293.36 379.8a1.4 1.4 0 1 0 2.8 0a1.4 1.4 0 1 0 -2.8 0M295.14 382.2a1.4 1.4 0 1 0 2.8 0a1.4 1.4 0 1 0 -2.8 0M296.92 383.3a1.4 1.4 0 1 0 2.8 0a1.4 1.4 0 1 0 -2.8 0M298.7 349.5a1.4 1.4 0 1 0 2.8 0a1.4 1.4 0 1 0 -2.8 0M300.47 383.9a1.4 1.4 0 1 0 2.8 0a1.4 1.4 0 1 0 -2.8 0M302.25 382.2a1.4 1.4 0 1 0 2.8 0a1.4 1.4 0 1 0 -2.8 0M304.03 370.3a1.4 1.4 0 1 0 2.8 0a1.4 1.4 0 1 0 -2.8 0M305.8 342.4a1.4 1.4 0 1 0 2.8 0a1.4 1.4 0 1 0 -2.8 0M307.58 344.8a1.4 1.4 0 1 0 2.8 0a1.4 1.4 0 1 0 -2.8 0M309.36 263.9a1.4 1.4 0 1 0 2.8 0a1.4 1.4 0 1 0 -2.8 0M311.14 291.4a1.4 1.4 0 1 0 2.8 0a1.4 1.4 0 1 0 -2.8 0M312.91 257.2a1.4 1.4 0 1 0 2.8 0a1.4 1.4 0 1 0 -2.8 0M314.69 220.8a1.4 1.4 0 1 0 2.8 0a1.4 1.4 0 1 0 -2.8 0M316.47 241a1.4 1.4 0 1 0 2.8 0a1.4 1.4 0 1 0 -2.8 0M318.25 206.2a1.4 1.4 0 1 0 2.8 0a1.4 1.4 0 1 0 -2.8 0M320.02 162.3a1.4 1.4 0 1 0 2.8 0a1.4 1.4 0 1 0 -2.8 0M321.8 163.3a1.4 1.4 0 1 0 2.8 0a1.4 1.4 0 1 0 -2.8 0M323.58 152.3a1.4 1.4 0 1 0 2.8 0a1.4 1.4 0 1 0 -2.8 0M325.36 210.5a1.4 1.4 0 1 0 2.8 0a1.4 1.4 0 1 0 -2.8 0M327.13 229.1a1.4 1.4 0 1 0 2.8 0a1.4 1.4 0 1 0 -2.8 0M328.91 191.8a1.4 1.4 0 1 0 2.8 0a1.4 1.4 0 1 0 -2.8 0M330.69 236.8a1.4 1.4 0 1 0 2.8 0a1.4 1.4 0 1 0 -2.8 0M332.47 301.5a1.4 1.4 0 1 0 2.8 0a1.4 1.4 0 1 0 -2.8 0M334.24 335.3a1.4 1.4 0 1 0 2.8 0a1.4 1.4 0 1 0 -2.8 0M336.02 330a1.4 1.4 0 1 0 2.8 0a1.4 1.4 0 1 0 -2.8 0M337.8 350.3a1.4 1.4 0 1 0 2.8 0a1.4 1.4 0 1 0 -2.8 0M339.58 238a1.4 1.4 0 1 0 2.8 0a1.4 1.4 0 1 0 -2.8 0M341.35 323.4a1.4 1.4 0 1 0 2.8 0a1.4 1.4 0 1 0 -2.8 0M343.13 353.3a1.4 1.4 0 1 0 2.8 0a1.4 1.4 0 1 0 -2.8 0M344.91 393.2a1.4 1.4 0 1 0 2.8 0a1.4 1.4 0 1 0 -2.8 0M346.69 382.6a1.4 1.4 0 1 0 2.8 0a1.4 1.4 0 1 0 -2.8 0M348.47 409.8a1.4 1.4 0 1 0 2.8 0a1.4 1.4 0 1 0 -2.8 0M350.24 413.6a1.4 1.4 0 1 0 2.8 0a1.4 1.4 0 1 0 -2.8 0M352.02 409.5a1.4 1.4 0 1 0 2.8 0a1.4 1.4 0 1 0 -2.8 0M353.8 398.8a1.4 1.4 0 1 0 2.8 0a1.4 1.4 0 1 0 -2.8 0M355.58 401.1a1.4 1.4 0 1 0 2.8 0a1.4 1.4 0 1 0 -2.8 0M357.35 393.4a1.4 1.4 0 1 0 2.8 0a1.4 1.4 0 1 0 -2.8 0M359.13 399.3a1.4 1.4 0 1 0 2.8 0a1.4 1.4 0 1 0 -2.8 0M360.91 394a1.4 1.4 0 1 0 2.8 0a1.4 1.4 0 1 0 -2.8 0M362.68 389.3a1.4 1.4 0 1 0 2.8 0a1.4 1.4 0 1 0 -2.8 0M364.46 387.5a1.4 1.4 0 1 0 2.8 0a1.4 1.4 0 1 0 -2.8 0M366.24 386.3a1.4 1.4 0 1 0 2.8 0a1.4 1.4 0 1 0 -2.8 0M368.02 383.3a1.4 1.4 0 1 0 2.8 0a1.4 1.4 0 1 0 -2.8 0M369.79 395a1.4 1.4 0 1 0 2.8 0a1.4 1.4 0 1 0 -2.8 0M371.57 380.3a1.4 1.4 0 1 0 2.8 0a1.4 1.4 0 1 0 -2.8 0M373.35 399.8a1.4 1.4 0 1 0 2.8 0a1.4 1.4 0 1 0 -2.8 0M375.13 388.7a1.4 1.4 0 1 0 2.8 0a1.4 1.4 0 1 0 -2.8 0M376.9 382.1a1.4 1.4 0 1 0 2.8 0a1.4 1.4 0 1 0 -2.8 0M378.68 382.7a1.4 1.4 0 1 0 2.8 0a1.4 1.4 0 1 0 -2.8 0M380.46 380.4a1.4 1.4 0 1 0 2.8 0a1.4 1.4 0 1 0 -2.8 0M382.24 383.3a1.4 1.4 0 1 0 2.8 0a1.4 1.4 0 1 0 -2.8 0M384.01 386.3a1.4 1.4 0 1 0 2.8 0a1.4 1.4 0 1 0 -2.8 0M385.79 387.5a1.4 1.4 0 1 0 2.8 0a1.4 1.4 0 1 0 -2.8 0M387.57 379.4a1.4 1.4 0 1 0 2.8 0a1.4 1.4 0 1 0 -2.8 0M389.35 379.6a1.4 1.4 0 1 0 2.8 0a1.4 1.4 0 1 0 -2.8 0M391.12 346.6a1.4 1.4 0 1 0 2.8 0a1.4 1.4 0 1 0 -2.8 0M392.9 359.2a1.4 1.4 0 1 0 2.8 0a1.4 1.4 0 1 0 -2.8 0M394.68 350.9a1.4 1.4 0 1 0 2.8 0a1.4 1.4 0 1 0 -2.8 0M396.46 285.2a1.4 1.4 0 1 0 2.8 0a1.4 1.4 0 1 0 -2.8 0M398.23 295.9a1.4 1.4 0 1 0 2.8 0a1.4 1.4 0 1 0 -2.8 0M400.01 330a1.4 1.4 0 1 0 2.8 0a1.4 1.4 0 1 0 -2.8 0M401.79 311.8a1.4 1.4 0 1 0 2.8 0a1.4 1.4 0 1 0 -2.8 0M403.57 303.5a1.4 1.4 0 1 0 2.8 0a1.4 1.4 0 1 0 -2.8 0M405.35 306.2a1.4 1.4 0 1 0 2.8 0a1.4 1.4 0 1 0 -2.8 0M407.12 343.4a1.4 1.4 0 1 0 2.8 0a1.4 1.4 0 1 0 -2.8 0M408.9 323.4a1.4 1.4 0 1 0 2.8 0a1.4 1.4 0 1 0 -2.8 0M410.68 324a1.4 1.4 0 1 0 2.8 0a1.4 1.4 0 1 0 -2.8 0M412.46 355.6a1.4 1.4 0 1 0 2.8 0a1.4 1.4 0 1 0 -2.8 0M414.23 297.9a1.4 1.4 0 1 0 2.8 0a1.4 1.4 0 1 0 -2.8 0M416.01 305.6a1.4 1.4 0 1 0 2.8 0a1.4 1.4 0 1 0 -2.8 0M417.79 318.7a1.4 1.4 0 1 0 2.8 0a1.4 1.4 0 1 0 -2.8 0M419.57 353.7a1.4 1.4 0 1 0 2.8 0a1.4 1.4 0 1 0 -2.8 0M421.34 366.6a1.4 1.4 0 1 0 2.8 0a1.4 1.4 0 1 0 -2.8 0M423.12 385a1.4 1.4 0 1 0 2.8 0a1.4 1.4 0 1 0 -2.8 0M424.9 388.8a1.4 1.4 0 1 0 2.8 0a1.4 1.4 0 1 0 -2.8 0M426.67 387.9a1.4 1.4 0 1 0 2.8 0a1.4 1.4 0 1 0 -2.8 0M428.45 387.3a1.4 1.4 0 1 0 2.8 0a1.4 1.4 0 1 0 -2.8 0M430.23 392.7a1.4 1.4 0 1 0 2.8 0a1.4 1.4 0 1 0 -2.8 0M432.01 392.1a1.4 1.4 0 1 0 2.8 0a1.4 1.4 0 1 0 -2.8 0M433.78 400.6a1.4 1.4 0 1 0 2.8 0a1.4 1.4 0 1 0 -2.8 0M435.56 388.5a1.4 1.4 0 1 0 2.8 0a1.4 1.4 0 1 0 -2.8 0M437.34 393.8a1.4 1.4 0 1 0 2.8 0a1.4 1.4 0 1 0 -2.8 0M439.12 380.8a1.4 1.4 0 1 0 2.8 0a1.4 1.4 0 1 0 -2.8 0M440.89 385.5a1.4 1.4 0 1 0 2.8 0a1.4 1.4 0 1 0 -2.8 0M442.67 391.5a1.4 1.4 0 1 0 2.8 0a1.4 1.4 0 1 0 -2.8 0M444.45 391.5a1.4 1.4 0 1 0 2.8 0a1.4 1.4 0 1 0 -2.8 0M446.23 384.3a1.4 1.4 0 1 0 2.8 0a1.4 1.4 0 1 0 -2.8 0M448 380.2a1.4 1.4 0 1 0 2.8 0a1.4 1.4 0 1 0 -2.8 0M449.78 382a1.4 1.4 0 1 0 2.8 0a1.4 1.4 0 1 0 -2.8 0M451.56 382.6a1.4 1.4 0 1 0 2.8 0a1.4 1.4 0 1 0 -2.8 0M453.34 377.8a1.4 1.4 0 1 0 2.8 0a1.4 1.4 0 1 0 -2.8 0M455.11 414.6a1.4 1.4 0 1 0 2.8 0a1.4 1.4 0 1 0 -2.8 0M456.89 383.2a1.4 1.4 0 1 0 2.8 0a1.4 1.4 0 1 0 -2.8 0M458.67 386.1a1.4 1.4 0 1 0 2.8 0a1.4 1.4 0 1 0 -2.8 0M460.45 414.6a1.4 1.4 0 1 0 2.8 0a1.4 1.4 0 1 0 -2.8 0M462.22 382a1.4 1.4 0 1 0 2.8 0a1.4 1.4 0 1 0 -2.8 0M464 384.3a1.4 1.4 0 1 0 2.8 0a1.4 1.4 0 1 0 -2.8 0M465.78 399.8a1.4 1.4 0 1 0 2.8 0a1.4 1.4 0 1 0 -2.8 0M467.56 380.8a1.4 1.4 0 1 0 2.8 0a1.4 1.4 0 1 0 -2.8 0M469.34 393.3a1.4 1.4 0 1 0 2.8 0a1.4 1.4 0 1 0 -2.8 0M471.11 380.8a1.4 1.4 0 1 0 2.8 0a1.4 1.4 0 1 0 -2.8 0M472.89 420a1.4 1.4 0 1 0 2.8 0a1.4 1.4 0 1 0 -2.8 0M474.67 371.3a1.4 1.4 0 1 0 2.8 0a1.4 1.4 0 1 0 -2.8 0M476.45 363.7a1.4 1.4 0 1 0 2.8 0a1.4 1.4 0 1 0 -2.8 0M478.22 325.4a1.4 1.4 0 1 0 2.8 0a1.4 1.4 0 1 0 -2.8 0M480 372.4a1.4 1.4 0 1 0 2.8 0a1.4 1.4 0 1 0 -2.8 0M481.78 197.3a1.4 1.4 0 1 0 2.8 0a1.4 1.4 0 1 0 -2.8 0M483.55 187.5a1.4 1.4 0 1 0 2.8 0a1.4 1.4 0 1 0 -2.8 0M485.33 200.5a1.4 1.4 0 1 0 2.8 0a1.4 1.4 0 1 0 -2.8 0M487.11 240.8a1.4 1.4 0 1 0 2.8 0a1.4 1.4 0 1 0 -2.8 0M488.89 269.9a1.4 1.4 0 1 0 2.8 0a1.4 1.4 0 1 0 -2.8 0M490.66 247.7a1.4 1.4 0 1 0 2.8 0a1.4 1.4 0 1 0 -2.8 0M492.44 247.4a1.4 1.4 0 1 0 2.8 0a1.4 1.4 0 1 0 -2.8 0M494.22 214.4a1.4 1.4 0 1 0 2.8 0a1.4 1.4 0 1 0 -2.8 0M496 134.1a1.4 1.4 0 1 0 2.8 0a1.4 1.4 0 1 0 -2.8 0M497.77 215.1a1.4 1.4 0 1 0 2.8 0a1.4 1.4 0 1 0 -2.8 0M499.55 240.3a1.4 1.4 0 1 0 2.8 0a1.4 1.4 0 1 0 -2.8 0M501.33 231.8a1.4 1.4 0 1 0 2.8 0a1.4 1.4 0 1 0 -2.8 0M503.11 218.7a1.4 1.4 0 1 0 2.8 0a1.4 1.4 0 1 0 -2.8 0M504.88 293.4a1.4 1.4 0 1 0 2.8 0a1.4 1.4 0 1 0 -2.8 0M506.66 267.1a1.4 1.4 0 1 0 2.8 0a1.4 1.4 0 1 0 -2.8 0M508.44 316.9a1.4 1.4 0 1 0 2.8 0a1.4 1.4 0 1 0 -2.8 0M510.22 324.5a1.4 1.4 0 1 0 2.8 0a1.4 1.4 0 1 0 -2.8 0M511.99 364.4a1.4 1.4 0 1 0 2.8 0a1.4 1.4 0 1 0 -2.8 0M513.77 371.2a1.4 1.4 0 1 0 2.8 0a1.4 1.4 0 1 0 -2.8 0M515.55 402.2a1.4 1.4 0 1 0 2.8 0a1.4 1.4 0 1 0 -2.8 0M517.33 420.2a1.4 1.4 0 1 0 2.8 0a1.4 1.4 0 1 0 -2.8 0M519.1 406.9a1.4 1.4 0 1 0 2.8 0a1.4 1.4 0 1 0 -2.8 0M520.88 392.3a1.4 1.4 0 1 0 2.8 0a1.4 1.4 0 1 0 -2.8 0M522.66 394.7a1.4 1.4 0 1 0 2.8 0a1.4 1.4 0 1 0 -2.8 0M524.44 397.1a1.4 1.4 0 1 0 2.8 0a1.4 1.4 0 1 0 -2.8 0M526.22 403.6a1.4 1.4 0 1 0 2.8 0a1.4 1.4 0 1 0 -2.8 0M527.99 394.1a1.4 1.4 0 1 0 2.8 0a1.4 1.4 0 1 0 -2.8 0M529.77 398.6a1.4 1.4 0 1 0 2.8 0a1.4 1.4 0 1 0 -2.8 0M531.55 400.6a1.4 1.4 0 1 0 2.8 0a1.4 1.4 0 1 0 -2.8 0M533.33 392.9a1.4 1.4 0 1 0 2.8 0a1.4 1.4 0 1 0 -2.8 0M535.1 388.8a1.4 1.4 0 1 0 2.8 0a1.4 1.4 0 1 0 -2.8 0M536.88 387.6a1.4 1.4 0 1 0 2.8 0a1.4 1.4 0 1 0 -2.8 0M538.66 383.4a1.4 1.4 0 1 0 2.8 0a1.4 1.4 0 1 0 -2.8 0M540.43 379.8a1.4 1.4 0 1 0 2.8 0a1.4 1.4 0 1 0 -2.8 0M542.21 381a1.4 1.4 0 1 0 2.8 0a1.4 1.4 0 1 0 -2.8 0M543.99 388.8a1.4 1.4 0 1 0 2.8 0a1.4 1.4 0 1 0 -2.8 0M545.77 383.4a1.4 1.4 0 1 0 2.8 0a1.4 1.4 0 1 0 -2.8 0M547.54 385.8a1.4 1.4 0 1 0 2.8 0a1.4 1.4 0 1 0 -2.8 0M549.32 368.3a1.4 1.4 0 1 0 2.8 0a1.4 1.4 0 1 0 -2.8 0M551.1 382.8a1.4 1.4 0 1 0 2.8 0a1.4 1.4 0 1 0 -2.8 0M552.88 377.5a1.4 1.4 0 1 0 2.8 0a1.4 1.4 0 1 0 -2.8 0M554.65 382.8a1.4 1.4 0 1 0 2.8 0a1.4 1.4 0 1 0 -2.8 0M556.43 386.1a1.4 1.4 0 1 0 2.8 0a1.4 1.4 0 1 0 -2.8 0M558.21 382.2a1.4 1.4 0 1 0 2.8 0a1.4 1.4 0 1 0 -2.8 0M559.99 360.5a1.4 1.4 0 1 0 2.8 0a1.4 1.4 0 1 0 -2.8 0M561.76 354.9a1.4 1.4 0 1 0 2.8 0a1.4 1.4 0 1 0 -2.8 0M563.54 317.7a1.4 1.4 0 1 0 2.8 0a1.4 1.4 0 1 0 -2.8 0M565.32 320.1a1.4 1.4 0 1 0 2.8 0a1.4 1.4 0 1 0 -2.8 0M567.1 277.3a1.4 1.4 0 1 0 2.8 0a1.4 1.4 0 1 0 -2.8 0M568.87 258.6a1.4 1.4 0 1 0 2.8 0a1.4 1.4 0 1 0 -2.8 0M570.65 267.8a1.4 1.4 0 1 0 2.8 0a1.4 1.4 0 1 0 -2.8 0M572.43 283.3a1.4 1.4 0 1 0 2.8 0a1.4 1.4 0 1 0 -2.8 0M574.21 225.6a1.4 1.4 0 1 0 2.8 0a1.4 1.4 0 1 0 -2.8 0M575.98 316.3a1.4 1.4 0 1 0 2.8 0a1.4 1.4 0 1 0 -2.8 0M577.76 231.8a1.4 1.4 0 1 0 2.8 0a1.4 1.4 0 1 0 -2.8 0M579.54 205.4a1.4 1.4 0 1 0 2.8 0a1.4 1.4 0 1 0 -2.8 0M581.32 235.1a1.4 1.4 0 1 0 2.8 0a1.4 1.4 0 1 0 -2.8 0M583.1 247.6a1.4 1.4 0 1 0 2.8 0a1.4 1.4 0 1 0 -2.8 0M584.87 233.3a1.4 1.4 0 1 0 2.8 0a1.4 1.4 0 1 0 -2.8 0M586.65 220.9a1.4 1.4 0 1 0 2.8 0a1.4 1.4 0 1 0 -2.8 0M588.43 250.6a1.4 1.4 0 1 0 2.8 0a1.4 1.4 0 1 0 -2.8 0M590.21 301.9a1.4 1.4 0 1 0 2.8 0a1.4 1.4 0 1 0 -2.8 0M591.98 353.3a1.4 1.4 0 1 0 2.8 0a1.4 1.4 0 1 0 -2.8 0M593.76 360.2a1.4 1.4 0 1 0 2.8 0a1.4 1.4 0 1 0 -2.8 0M595.54 344.2a1.4 1.4 0 1 0 2.8 0a1.4 1.4 0 1 0 -2.8 0M597.31 387.6a1.4 1.4 0 1 0 2.8 0a1.4 1.4 0 1 0 -2.8 0M599.09 392.1a1.4 1.4 0 1 0 2.8 0a1.4 1.4 0 1 0 -2.8 0M600.87 396.2a1.4 1.4 0 1 0 2.8 0a1.4 1.4 0 1 0 -2.8 0M602.65 406.3a1.4 1.4 0 1 0 2.8 0a1.4 1.4 0 1 0 -2.8 0M604.42 406.9a1.4 1.4 0 1 0 2.8 0a1.4 1.4 0 1 0 -2.8 0M606.2 408.5a1.4 1.4 0 1 0 2.8 0a1.4 1.4 0 1 0 -2.8 0M607.98 408.9a1.4 1.4 0 1 0 2.8 0a1.4 1.4 0 1 0 -2.8 0M609.76 404.5a1.4 1.4 0 1 0 2.8 0a1.4 1.4 0 1 0 -2.8 0M611.53 409.9a1.4 1.4 0 1 0 2.8 0a1.4 1.4 0 1 0 -2.8 0M613.31 407.5a1.4 1.4 0 1 0 2.8 0a1.4 1.4 0 1 0 -2.8 0M615.09 415.8a1.4 1.4 0 1 0 2.8 0a1.4 1.4 0 1 0 -2.8 0M616.87 409.9a1.4 1.4 0 1 0 2.8 0a1.4 1.4 0 1 0 -2.8 0M618.64 412.3a1.4 1.4 0 1 0 2.8 0a1.4 1.4 0 1 0 -2.8 0" fill="none" stroke="#f00" stroke-width="0.7"/>
</g>
<rect x="113.45" y="84.75" width="510" height="396.8" fill="none" stroke="#000" stroke-width="1.45"/>
<text x="211.3" y="46.3" font-size="36" dx="0 -1.6 1.0 0 0.2 0.6 0 0 0 0 0.3" dy="1.9 -1.9"><tspan font-size="40">&lt;</tspan>w’ T’&gt; / 2009-05-21</text>
<text x="85.2" y="70" font-size="17.2">[˚C·m/s]</text>
<text transform="translate(103 191.2) scale(1 0.93)" font-size="20" text-anchor="end">0.2</text>
<text transform="translate(103 290.2) scale(1 0.93)" font-size="20" text-anchor="end">0.1</text>
<text transform="translate(103 389.2) scale(1 0.93)" font-size="20" text-anchor="end">0.0</text>
<text transform="translate(103 488.25) scale(1 0.93)" font-size="20" text-anchor="end">-0.1</text>
<text transform="translate(197 506.9) scale(1 0.93)" font-size="20" text-anchor="middle">00:00</text>
<text transform="translate(283 506.9) scale(1 0.93)" font-size="20" text-anchor="middle">00:00</text>
<text transform="translate(368 506.9) scale(1 0.93)" font-size="20" text-anchor="middle">00:00</text>
<text transform="translate(453 506.9) scale(1 0.93)" font-size="20" text-anchor="middle">00:00</text>
<text transform="translate(539 506.9) scale(1 0.93)" font-size="20" text-anchor="middle">00:00</text>
<text transform="translate(154.74 529.8) scale(1 0.93)" font-size="20" text-anchor="middle">May-16</text>
<text transform="translate(240.06 529.8) scale(1 0.93)" font-size="20" text-anchor="middle">May-17</text>
<text transform="translate(325.38 529.8) scale(1 0.93)" font-size="20" text-anchor="middle">May-18</text>
<text transform="translate(410.7 529.8) scale(1 0.93)" font-size="20" text-anchor="middle">May-19</text>
<text transform="translate(496.02 529.8) scale(1 0.93)" font-size="20" text-anchor="middle">May-20</text>
<text transform="translate(581.34 529.8) scale(1 0.93)" font-size="20" text-anchor="middle">May-21</text>
<text x="369.7" y="555" font-size="24" text-anchor="middle">(LST)</text>
<rect x="638" y="396.7" width="184" height="84.8" fill="#fff" stroke="#000" stroke-width="1.2"/>
<line x1="643.5" y1="410.8" x2="654.6" y2="410.8" stroke="#f00" stroke-width="0.6"/>
<circle cx="649" cy="410.8" r="1.3" fill="#fff" stroke="#f00" stroke-width="0.7"/>
<text transform="translate(660.4 416) scale(1 0.93)" font-size="18">at 29.5 m SE</text>
<line x1="643.5" y1="439.2" x2="654.6" y2="439.2" stroke="#0f0" stroke-width="0.6"/>
<circle cx="649" cy="439.2" r="1.3" fill="#fff" stroke="#0f0" stroke-width="0.7"/>
<text transform="translate(660.4 444.8) scale(1 0.93)" font-size="18">at 29.5 m NW</text>
<line x1="643.5" y1="467.3" x2="654.6" y2="467.3" stroke="#00f" stroke-width="0.6"/>
<circle cx="649" cy="467.3" r="1.3" fill="#fff" stroke="#00f" stroke-width="0.7"/>
<text transform="translate(660.4 473) scale(1 0.93)" font-size="18">at 1.6 m</text>
<text x="780.6" y="533.2" font-size="12.4" text-anchor="end" style="stroke-width:0.12px">©TERC, Univ. Tsukuba</text>
<text x="822.8" y="549.2" font-size="14" text-anchor="end" style="stroke-width:0.12px">Observed at TERC Tower site</text>
<text x="822.8" y="566.2" font-size="14" text-anchor="end" style="stroke-width:0.12px">Created Automatically at 2009-05-21/23:32:08</text>
<text x="821.6" y="583.5" font-size="13.9" text-anchor="end" style="stroke-width:0.12px">Data source : /home/hojyo/new/TERC-data/sorted_data/FLUX.30m.dat</text>
<g transform="translate(785 504)">
<clipPath id="lc"><rect x="0" y="0" width="34" height="34"/></clipPath>
<rect x="0" y="0" width="34" height="34" fill="#0a5af2"/>
<g clip-path="url(#lc)">
<path d="M11 -1V0A6.1 6.1 0 0 0 23.2 0V-1Z" fill="#fff"/>
<path d="M17.6 7.8C18.3 10.5 20.3 12.3 20.3 14.8C20.3 17 19 18.3 17.3 18.3C15.5 18.3 14.1 17 14.1 14.8C14.1 12.3 16.6 10.8 17.6 7.8Z" fill="#fff"/>
<circle cx="17" cy="3" r="18.8" fill="none" stroke="#fff" stroke-width="1.25"/>
<circle cx="17" cy="1.4" r="22.7" fill="none" stroke="#fff" stroke-width="1.25"/>
<rect x="9.5" y="23.4" width="15.5" height="1" fill="#fff"/>
</g>
<text transform="translate(17.2 33) scale(1.06 1)" font-size="7.8" font-weight="bold" text-anchor="middle" textLength="30.4" lengthAdjust="spacing" style="font-family:'Liberation Sans',sans-serif;fill:#fff;stroke:#fff;stroke-width:0.3px">TERC</text>
</g>
</g>
</svg>
</body></html>
